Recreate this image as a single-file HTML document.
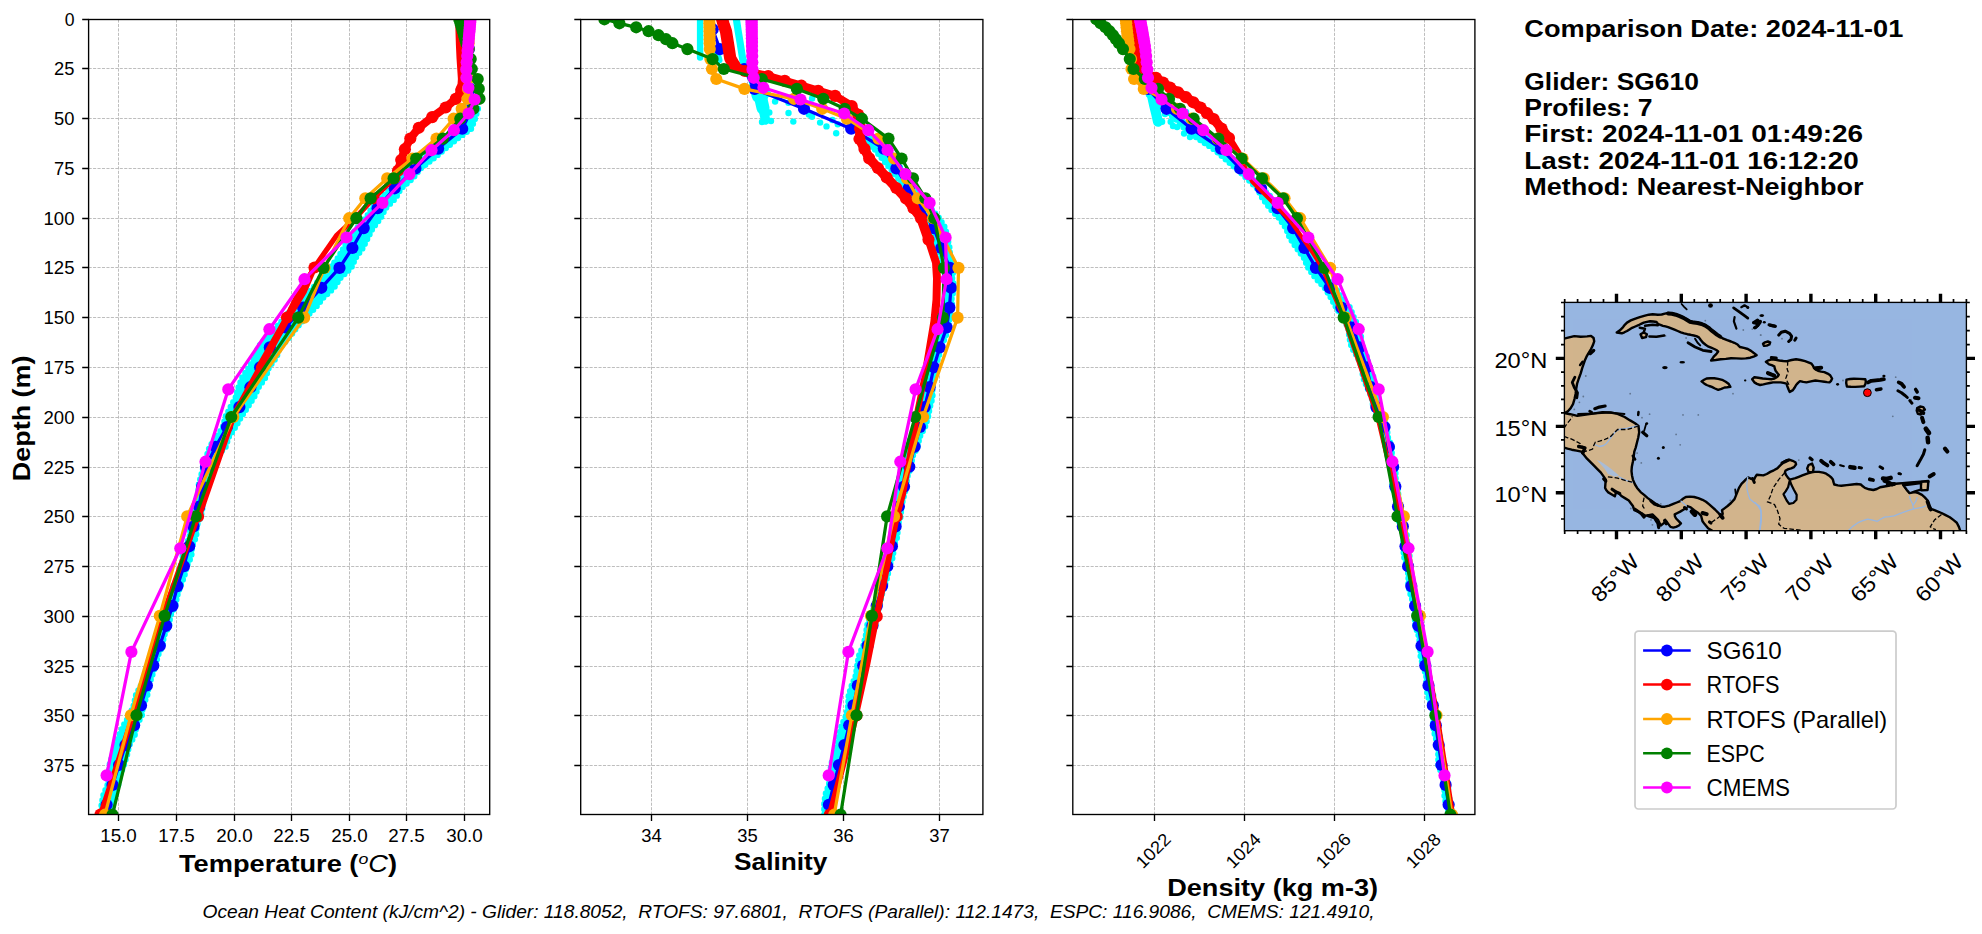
<!DOCTYPE html>
<html><head><meta charset="utf-8"><title>Glider / model profile comparison</title>
<style>html,body{margin:0;padding:0;background:#fff}body{width:1982px;height:934px;overflow:hidden}svg{display:block}text{font-family:"Liberation Sans",sans-serif;fill:#000}</style>
</head><body>
<svg width="1982" height="934" viewBox="0 0 1982 934">
<rect width="1982" height="934" fill="#fff"/>
<defs>
<clipPath id="c0"><rect x="88.6" y="19.5" width="401.1" height="795"/></clipPath>
<clipPath id="c1"><rect x="580.7" y="19.5" width="402.2" height="795"/></clipPath>
<clipPath id="c2"><rect x="1072.8" y="19.5" width="402.1" height="795"/></clipPath>
<clipPath id="cm"><rect x="1564.4" y="302.4" width="402" height="228.3"/></clipPath>
</defs>
<path d="M88.6 68.5H489.7M88.6 118.5H489.7M88.6 168.5H489.7M88.6 218.5H489.7M88.6 267.5H489.7M88.6 317.5H489.7M88.6 367.5H489.7M88.6 417.5H489.7M88.6 467.5H489.7M88.6 516.5H489.7M88.6 566.5H489.7M88.6 616.5H489.7M88.6 666.5H489.7M88.6 715.5H489.7M88.6 765.5H489.7M118.5 19.5V814.5M176.5 19.5V814.5M234.5 19.5V814.5M291.5 19.5V814.5M349.5 19.5V814.5M406.5 19.5V814.5M464.5 19.5V814.5" stroke="#b2b2b2" stroke-width="0.85" stroke-dasharray="3.1 1.35" fill="none"/>
<g clip-path="url(#c0)">
<polygon points="466.2,19.3 465,29.2 466.7,39.2 467.2,49.1 465.3,59.1 465.6,69 467.8,79 467.3,88.9 467,98.8 468.8,108.8 464.3,118.7 457.6,128.7 445.7,138.6 435.4,148.6 423.2,158.5 410.4,168.4 401.3,178.4 391.5,188.3 380.8,198.3 372,208.2 365.9,218.2 357.2,228.1 349.1,238 343.8,248 338.3,257.9 330,267.9 320.8,277.8 313.5,287.8 303.8,297.7 292.7,307.6 284.8,317.6 276.6,327.5 266.7,337.5 258.1,347.4 254.9,357.4 249.3,367.3 242.5,377.2 238.6,387.2 236,397.1 230.6,407.1 225.6,417 223,427 217,436.9 209.7,446.8 206.6,456.8 203.7,466.7 200.9,476.7 198.4,486.6 198.7,496.6 197.1,506.5 192.4,516.4 190.5,526.4 189.7,536.3 186.1,546.3 182.7,556.2 181.9,566.2 178.6,576.1 173.5,586.1 171.8,596 170.8,605.9 166.3,615.9 162,625.8 160.2,635.8 156.8,645.7 151.4,655.7 148.4,665.6 146.5,675.5 141,685.5 136,695.4 133.8,705.4 129.9,715.3 123.8,725.3 119.3,735.2 115.9,745.1 112.7,755.1 109.6,765 109.3,775 107.7,784.9 103.5,794.9 101.6,804.8 101.4,814.7 107.8,814.7 112.5,804.8 113.3,794.9 118.2,784.9 119.9,775 123.8,765 126.9,755.1 129.2,745.1 134.6,735.2 136.6,725.3 141.8,715.3 142.8,705.4 147.2,695.4 148.6,685.5 152,675.5 155.4,665.6 157.7,655.7 162.5,645.7 163.7,635.8 169.1,625.8 170.1,615.9 175.3,605.9 177,596 180.2,586.1 184.2,576.1 186.7,566.2 191.3,556.2 191.9,546.3 196.2,536.3 196.4,526.4 200.8,516.4 202.7,506.5 203.8,496.6 205.1,486.6 205.1,476.7 211.1,466.7 216.2,456.8 225.5,446.8 228.7,436.9 235.3,427 241,417 247.5,407.1 254,397.1 258.4,387.2 265.6,377.2 268.8,367.3 276.3,357.4 279.8,347.4 289.2,337.5 296.6,327.5 305.4,317.6 315.3,307.6 323.1,297.7 333.8,287.8 340.3,277.8 351.1,267.9 355.4,257.9 362.6,248 367.6,238 372.6,228.1 380.4,218.2 385.4,208.2 395.3,198.3 400.9,188.3 412.5,178.4 420.5,168.4 433.4,158.5 445.1,148.6 457.2,138.6 471.1,128.7 474.9,118.7 477.9,108.8 469.7,98.8 470.7,88.9 468.7,79 469,69 469,59.1 468.3,49.1 469.6,39.2 467.8,29.2 469.9,19.3" fill="#00ffff" stroke="#00ffff" stroke-width="1.5" stroke-linejoin="round"/>
<polygon points="466.2,19.3 465,29.2 466.7,39.2 467.2,49.1 465.3,59.1 465.6,69 467.8,79 467.3,88.9 467,98.8 468.8,108.8 464.3,118.7 457.6,128.7 445.7,138.6 435.4,148.6 423.2,158.5 410.4,168.4 401.3,178.4 391.5,188.3 380.8,198.3 372,208.2 365.9,218.2 357.2,228.1 349.1,238 343.8,248 338.3,257.9 330,267.9 320.8,277.8 313.5,287.8 303.8,297.7 292.7,307.6 284.8,317.6 276.6,327.5 266.7,337.5 258.1,347.4 254.9,357.4 249.3,367.3 242.5,377.2 238.6,387.2 236,397.1 230.6,407.1 225.6,417 223,427 217,436.9 209.7,446.8 206.6,456.8 203.7,466.7 200.9,476.7 198.4,486.6 198.7,496.6 197.1,506.5 192.4,516.4 190.5,526.4 189.7,536.3 186.1,546.3 182.7,556.2 181.9,566.2 178.6,576.1 173.5,586.1 171.8,596 170.8,605.9 166.3,615.9 162,625.8 160.2,635.8 156.8,645.7 151.4,655.7 148.4,665.6 146.5,675.5 141,685.5 136,695.4 133.8,705.4 129.9,715.3 123.8,725.3 119.3,735.2 115.9,745.1 112.7,755.1 109.6,765 109.3,775 107.7,784.9 103.5,794.9 101.6,804.8 101.4,814.7 107.8,814.7 112.5,804.8 113.3,794.9 118.2,784.9 119.9,775 123.8,765 126.9,755.1 129.2,745.1 134.6,735.2 136.6,725.3 141.8,715.3 142.8,705.4 147.2,695.4 148.6,685.5 152,675.5 155.4,665.6 157.7,655.7 162.5,645.7 163.7,635.8 169.1,625.8 170.1,615.9 175.3,605.9 177,596 180.2,586.1 184.2,576.1 186.7,566.2 191.3,556.2 191.9,546.3 196.2,536.3 196.4,526.4 200.8,516.4 202.7,506.5 203.8,496.6 205.1,486.6 205.1,476.7 211.1,466.7 216.2,456.8 225.5,446.8 228.7,436.9 235.3,427 241,417 247.5,407.1 254,397.1 258.4,387.2 265.6,377.2 268.8,367.3 276.3,357.4 279.8,347.4 289.2,337.5 296.6,327.5 305.4,317.6 315.3,307.6 323.1,297.7 333.8,287.8 340.3,277.8 351.1,267.9 355.4,257.9 362.6,248 367.6,238 372.6,228.1 380.4,218.2 385.4,208.2 395.3,198.3 400.9,188.3 412.5,178.4 420.5,168.4 433.4,158.5 445.1,148.6 457.2,138.6 471.1,128.7 474.9,118.7 477.9,108.8 469.7,98.8 470.7,88.9 468.7,79 469,69 469,59.1 468.3,49.1 469.6,39.2 467.8,29.2 469.9,19.3" fill="none" stroke="#00ffff" stroke-width="6.4" stroke-linecap="round" stroke-dasharray="0 5.3"/>
<polyline points="469,29.2 469,49.1 469,69 470,88.9 472,108.8 462.2,128.7 438.1,148.6 415.4,168.4 394.7,188.3 377.6,208.2 363.7,228.1 352.4,248 339.5,267.9 321.3,287.8 303.1,307.6 285.5,327.5 269.8,347.4 260.1,367.3 250.4,387.2 239.4,407.1 226.9,427 215.6,446.8 206,466.7 202.2,486.6 199.2,506.5 193.5,526.4 189.2,546.3 183.9,566.2 177.4,586.1 172.4,605.9 166.2,625.8 159.8,645.7 153.3,665.6 146.9,685.5 141,705.4 134.1,725.3 125.5,745.1 119.1,765 112.5,784.9 106.6,804.8" fill="none" stroke="#0000ff" stroke-width="3.25" stroke-linejoin="round"/>
<g fill="#0000ff"><circle cx="469" cy="29.2" r="6.1"/><circle cx="469" cy="49.1" r="6.1"/><circle cx="469" cy="69" r="6.1"/><circle cx="470" cy="88.9" r="6.1"/><circle cx="472" cy="108.8" r="6.1"/><circle cx="462.2" cy="128.7" r="6.1"/><circle cx="438.1" cy="148.6" r="6.1"/><circle cx="415.4" cy="168.4" r="6.1"/><circle cx="394.7" cy="188.3" r="6.1"/><circle cx="377.6" cy="208.2" r="6.1"/><circle cx="363.7" cy="228.1" r="6.1"/><circle cx="352.4" cy="248" r="6.1"/><circle cx="339.5" cy="267.9" r="6.1"/><circle cx="321.3" cy="287.8" r="6.1"/><circle cx="303.1" cy="307.6" r="6.1"/><circle cx="285.5" cy="327.5" r="6.1"/><circle cx="269.8" cy="347.4" r="6.1"/><circle cx="260.1" cy="367.3" r="6.1"/><circle cx="250.4" cy="387.2" r="6.1"/><circle cx="239.4" cy="407.1" r="6.1"/><circle cx="226.9" cy="427" r="6.1"/><circle cx="215.6" cy="446.8" r="6.1"/><circle cx="206" cy="466.7" r="6.1"/><circle cx="202.2" cy="486.6" r="6.1"/><circle cx="199.2" cy="506.5" r="6.1"/><circle cx="193.5" cy="526.4" r="6.1"/><circle cx="189.2" cy="546.3" r="6.1"/><circle cx="183.9" cy="566.2" r="6.1"/><circle cx="177.4" cy="586.1" r="6.1"/><circle cx="172.4" cy="605.9" r="6.1"/><circle cx="166.2" cy="625.8" r="6.1"/><circle cx="159.8" cy="645.7" r="6.1"/><circle cx="153.3" cy="665.6" r="6.1"/><circle cx="146.9" cy="685.5" r="6.1"/><circle cx="141" cy="705.4" r="6.1"/><circle cx="134.1" cy="725.3" r="6.1"/><circle cx="125.5" cy="745.1" r="6.1"/><circle cx="119.1" cy="765" r="6.1"/><circle cx="112.5" cy="784.9" r="6.1"/><circle cx="106.6" cy="804.8" r="6.1"/></g>
<polyline points="461,17 461.4,26 462,45 462.6,58 464,79 463.6,85 461.5,90" fill="none" stroke="#ff0000" stroke-width="12.2" stroke-linecap="round" stroke-linejoin="round"/>
<polyline points="461.5,90 455.8,98.9 445.6,107.5 432.2,117.1 418.8,127.8 410.3,138.5 404.9,149.2 401.2,160 398,170.7 394.5,178" fill="none" stroke="#ff0000" stroke-width="8.2" stroke-linecap="round" stroke-linejoin="round"/>
<polyline points="394.5,178 373.5,198.3 355.2,218.2 336.4,235.7 314,267.9 287,317.5 232.5,417 198,516.4 162.5,616 133,715.4 100.5,814.6" fill="none" stroke="#ff0000" stroke-width="5.2" stroke-linecap="round" stroke-linejoin="round"/>
<polyline points="314,267.9 298.5,292 286,317.5 258,367" fill="none" stroke="#ff0000" stroke-width="4.5" stroke-linecap="round" stroke-linejoin="round"/>
<polyline points="315,267.9 304.5,292 289,317.5 262,367 234,417 199.5,516.4" fill="none" stroke="#ff0000" stroke-width="4.5" stroke-linecap="round" stroke-linejoin="round"/>
<g fill="#ff0000"><circle cx="461.5" cy="90" r="6.1"/><circle cx="455.8" cy="98.9" r="6.1"/><circle cx="445.6" cy="107.5" r="6.1"/><circle cx="432.2" cy="117.1" r="6.1"/><circle cx="418.8" cy="127.8" r="6.1"/><circle cx="410.3" cy="138.5" r="6.1"/><circle cx="404.9" cy="149.2" r="6.1"/><circle cx="401.2" cy="160" r="6.1"/><circle cx="398" cy="170.7" r="6.1"/><circle cx="394.5" cy="178" r="6.1"/><circle cx="373.5" cy="198.3" r="6.1"/><circle cx="355.2" cy="218.2" r="6.1"/><circle cx="314.5" cy="267.5" r="6.1"/><circle cx="287" cy="317.5" r="6.1"/><circle cx="232.5" cy="417" r="6.1"/><circle cx="198" cy="516.4" r="6.1"/><circle cx="162.5" cy="616" r="6.1"/><circle cx="133" cy="715.4" r="6.1"/><circle cx="100.5" cy="814.6" r="6.1"/></g>
<polyline points="468.6,19.3 468.6,23.3 468.6,27.3 468.6,31.2 468.6,35.2 468.6,39.2 468.6,43.2 468.5,49.1 468.4,59.1 468.2,69 468,79 468,88.9 467.6,98.8 461.7,108.8 453.6,118.7 436.5,138.6 412.4,158.5 387.2,178.4 365.3,198.3 349.2,218.2 324.5,267.9 304.2,317.6 233.3,417 187.2,516.4 159.8,615.9 130.9,715.3 105,814.7" fill="none" stroke="#ffa500" stroke-width="3.25" stroke-linejoin="round"/>
<g fill="#ffa500"><circle cx="468.6" cy="19.3" r="6.1"/><circle cx="468.6" cy="23.3" r="6.1"/><circle cx="468.6" cy="27.3" r="6.1"/><circle cx="468.6" cy="31.2" r="6.1"/><circle cx="468.6" cy="35.2" r="6.1"/><circle cx="468.6" cy="39.2" r="6.1"/><circle cx="468.6" cy="43.2" r="6.1"/><circle cx="468.5" cy="49.1" r="6.1"/><circle cx="468.4" cy="59.1" r="6.1"/><circle cx="468.2" cy="69" r="6.1"/><circle cx="468" cy="79" r="6.1"/><circle cx="468" cy="88.9" r="6.1"/><circle cx="467.6" cy="98.8" r="6.1"/><circle cx="461.7" cy="108.8" r="6.1"/><circle cx="453.6" cy="118.7" r="6.1"/><circle cx="436.5" cy="138.6" r="6.1"/><circle cx="412.4" cy="158.5" r="6.1"/><circle cx="387.2" cy="178.4" r="6.1"/><circle cx="365.3" cy="198.3" r="6.1"/><circle cx="349.2" cy="218.2" r="6.1"/><circle cx="324.5" cy="267.9" r="6.1"/><circle cx="304.2" cy="317.6" r="6.1"/><circle cx="233.3" cy="417" r="6.1"/><circle cx="187.2" cy="516.4" r="6.1"/><circle cx="159.8" cy="615.9" r="6.1"/><circle cx="130.9" cy="715.3" r="6.1"/><circle cx="105" cy="814.7" r="6.1"/></g>
<polyline points="459.3,19.3 460.5,23.3 461.7,27.3 462.9,31.2 464,35.2 465.2,39.2 466.4,43.2 468.5,49.1 470.7,59.1 471.8,69 477.7,79 478.8,88.9 479.5,98.8 473.4,108.8 460.3,118.7 442.9,138.6 416.2,158.5 393.6,178.4 370.6,198.3 356.4,218.2 323.5,267.9 298.3,317.6 231.3,417 195.7,516.4 164.6,615.9 136.5,715.3 112.5,814.7" fill="none" stroke="#008000" stroke-width="3.25" stroke-linejoin="round"/>
<g fill="#008000"><circle cx="459.3" cy="19.3" r="6.1"/><circle cx="460.5" cy="23.3" r="6.1"/><circle cx="461.7" cy="27.3" r="6.1"/><circle cx="462.9" cy="31.2" r="6.1"/><circle cx="464" cy="35.2" r="6.1"/><circle cx="465.2" cy="39.2" r="6.1"/><circle cx="466.4" cy="43.2" r="6.1"/><circle cx="468.5" cy="49.1" r="6.1"/><circle cx="470.7" cy="59.1" r="6.1"/><circle cx="471.8" cy="69" r="6.1"/><circle cx="477.7" cy="79" r="6.1"/><circle cx="478.8" cy="88.9" r="6.1"/><circle cx="479.5" cy="98.8" r="6.1"/><circle cx="473.4" cy="108.8" r="6.1"/><circle cx="460.3" cy="118.7" r="6.1"/><circle cx="442.9" cy="138.6" r="6.1"/><circle cx="416.2" cy="158.5" r="6.1"/><circle cx="393.6" cy="178.4" r="6.1"/><circle cx="370.6" cy="198.3" r="6.1"/><circle cx="356.4" cy="218.2" r="6.1"/><circle cx="323.5" cy="267.9" r="6.1"/><circle cx="298.3" cy="317.6" r="6.1"/><circle cx="231.3" cy="417" r="6.1"/><circle cx="195.7" cy="516.4" r="6.1"/><circle cx="164.6" cy="615.9" r="6.1"/><circle cx="136.5" cy="715.3" r="6.1"/><circle cx="112.5" cy="814.7" r="6.1"/></g>
<polyline points="470.3,20.3 470.2,22.4 470,24.6 469.8,26.9 469.6,29.4 469.4,32.1 469.1,35.1 468.8,38.3 468.5,42 468.1,46.1 467.6,50.7 467.2,56.1 466.7,62.3 466.3,69.4 466.4,77.8 468.4,87.8 474.6,99.5 468.6,113.5 453.9,130.2 431.5,150.2 409.5,174.1 382.4,202.9 346.5,237.5 304.5,279.2 269.4,329.2 228.3,389.4 205.5,461.7 180.3,548.3 131.4,651.9 106.6,775.4" fill="none" stroke="#ff00ff" stroke-width="3.25" stroke-linejoin="round"/>
<g fill="#ff00ff"><circle cx="470.3" cy="20.3" r="6.1"/><circle cx="470.2" cy="22.4" r="6.1"/><circle cx="470" cy="24.6" r="6.1"/><circle cx="469.8" cy="26.9" r="6.1"/><circle cx="469.6" cy="29.4" r="6.1"/><circle cx="469.4" cy="32.1" r="6.1"/><circle cx="469.1" cy="35.1" r="6.1"/><circle cx="468.8" cy="38.3" r="6.1"/><circle cx="468.5" cy="42" r="6.1"/><circle cx="468.1" cy="46.1" r="6.1"/><circle cx="467.6" cy="50.7" r="6.1"/><circle cx="467.2" cy="56.1" r="6.1"/><circle cx="466.7" cy="62.3" r="6.1"/><circle cx="466.3" cy="69.4" r="6.1"/><circle cx="466.4" cy="77.8" r="6.1"/><circle cx="468.4" cy="87.8" r="6.1"/><circle cx="474.6" cy="99.5" r="6.1"/><circle cx="468.6" cy="113.5" r="6.1"/><circle cx="453.9" cy="130.2" r="6.1"/><circle cx="431.5" cy="150.2" r="6.1"/><circle cx="409.5" cy="174.1" r="6.1"/><circle cx="382.4" cy="202.9" r="6.1"/><circle cx="346.5" cy="237.5" r="6.1"/><circle cx="304.5" cy="279.2" r="6.1"/><circle cx="269.4" cy="329.2" r="6.1"/><circle cx="228.3" cy="389.4" r="6.1"/><circle cx="205.5" cy="461.7" r="6.1"/><circle cx="180.3" cy="548.3" r="6.1"/><circle cx="131.4" cy="651.9" r="6.1"/><circle cx="106.6" cy="775.4" r="6.1"/></g>
</g>
<rect x="88.6" y="19.5" width="401.1" height="795" fill="none" stroke="#000" stroke-width="1.35"/>
<path d="M88.6 19.5h-6.4M88.6 68.5h-6.4M88.6 118.5h-6.4M88.6 168.5h-6.4M88.6 218.5h-6.4M88.6 267.5h-6.4M88.6 317.5h-6.4M88.6 367.5h-6.4M88.6 417.5h-6.4M88.6 467.5h-6.4M88.6 516.5h-6.4M88.6 566.5h-6.4M88.6 616.5h-6.4M88.6 666.5h-6.4M88.6 715.5h-6.4M88.6 765.5h-6.4M118.5 814.5v6.4M176.5 814.5v6.4M234.5 814.5v6.4M291.5 814.5v6.4M349.5 814.5v6.4M406.5 814.5v6.4M464.5 814.5v6.4" stroke="#000" stroke-width="1.35" fill="none"/>
<path d="M580.7 68.5H982.9M580.7 118.5H982.9M580.7 168.5H982.9M580.7 218.5H982.9M580.7 267.5H982.9M580.7 317.5H982.9M580.7 367.5H982.9M580.7 417.5H982.9M580.7 467.5H982.9M580.7 516.5H982.9M580.7 566.5H982.9M580.7 616.5H982.9M580.7 666.5H982.9M580.7 715.5H982.9M580.7 765.5H982.9M651.5 19.5V814.5M747.5 19.5V814.5M843.5 19.5V814.5M939.5 19.5V814.5" stroke="#b2b2b2" stroke-width="0.85" stroke-dasharray="3.1 1.35" fill="none"/>
<g clip-path="url(#c1)">
<polygon points="857,138.6 874.3,148.6 882.2,158.5 890.4,168.4 898.3,178.4 905.5,188.3 910.3,198.3 916.9,208.2 924.4,218.2 929.3,228.1 931.6,238 936.7,248 941.9,257.9 944.4,267.9 944.8,277.8 947.2,287.8 945.8,297.7 943.4,307.6 943.4,317.6 943.2,327.5 938.2,337.5 934.6,347.4 933.7,357.4 930.5,367.3 926.7,377.2 925.8,387.2 924.5,397.1 919.9,407.1 916.5,417 915.3,427 911.7,436.9 906.7,446.8 904.6,456.8 902.7,466.7 899.8,476.7 897.9,486.6 898.6,496.6 897.2,506.5 893.8,516.4 893.1,526.4 892.6,536.3 889.3,546.3 886.2,556.2 885.8,566.2 883.1,576.1 878.7,586.1 876.8,596 875,605.9 870.8,615.9 867.1,625.8 865.9,635.8 863.4,645.7 859.1,655.7 857.3,665.6 855.9,675.5 851.9,685.5 848.7,695.4 848.3,705.4 846.4,715.3 841.8,725.3 839.2,735.2 837.8,745.1 834.4,755.1 831,765 830.6,775 828.9,784.9 825.4,794.9 824.2,804.8 824.4,814.7 827.3,814.7 831.8,804.8 832.1,794.9 836.4,784.9 837.6,775 841,765 843.7,755.1 845.6,745.1 849.1,735.2 849.3,725.3 853.2,715.3 853.3,705.4 857.2,695.4 858.1,685.5 861.4,675.5 864.5,665.6 866.1,655.7 870.1,645.7 870.7,635.8 875.4,625.8 875.6,615.9 879.6,605.9 881.3,596 884.5,586.1 887.5,576.1 889.1,566.2 893.1,556.2 893.4,546.3 897.5,536.3 897.4,526.4 900.6,516.4 901.3,506.5 903.6,496.6 906.3,486.6 907.2,476.7 911.1,466.7 912.2,456.8 917.5,446.8 919.5,436.9 924.9,427 927.9,417 929.8,407.1 932.5,397.1 932.2,387.2 934.9,377.2 933.5,367.3 938.8,357.4 940.1,347.4 945.1,337.5 948.2,327.5 949.6,317.6 952,307.6 951.5,297.7 954.5,287.8 952,277.8 953.7,267.9 950.2,257.9 949.5,248 947.3,238 945.2,228.1 939.1,218.2 930.3,208.2 924.7,198.3 914.9,188.3 909.5,178.4 900.5,168.4 894.1,158.5 886.7,148.6 869.9,138.6" fill="#00ffff" stroke="#00ffff" stroke-width="1.5" stroke-linejoin="round"/>
<polygon points="857,138.6 874.3,148.6 882.2,158.5 890.4,168.4 898.3,178.4 905.5,188.3 910.3,198.3 916.9,208.2 924.4,218.2 929.3,228.1 931.6,238 936.7,248 941.9,257.9 944.4,267.9 944.8,277.8 947.2,287.8 945.8,297.7 943.4,307.6 943.4,317.6 943.2,327.5 938.2,337.5 934.6,347.4 933.7,357.4 930.5,367.3 926.7,377.2 925.8,387.2 924.5,397.1 919.9,407.1 916.5,417 915.3,427 911.7,436.9 906.7,446.8 904.6,456.8 902.7,466.7 899.8,476.7 897.9,486.6 898.6,496.6 897.2,506.5 893.8,516.4 893.1,526.4 892.6,536.3 889.3,546.3 886.2,556.2 885.8,566.2 883.1,576.1 878.7,586.1 876.8,596 875,605.9 870.8,615.9 867.1,625.8 865.9,635.8 863.4,645.7 859.1,655.7 857.3,665.6 855.9,675.5 851.9,685.5 848.7,695.4 848.3,705.4 846.4,715.3 841.8,725.3 839.2,735.2 837.8,745.1 834.4,755.1 831,765 830.6,775 828.9,784.9 825.4,794.9 824.2,804.8 824.4,814.7 827.3,814.7 831.8,804.8 832.1,794.9 836.4,784.9 837.6,775 841,765 843.7,755.1 845.6,745.1 849.1,735.2 849.3,725.3 853.2,715.3 853.3,705.4 857.2,695.4 858.1,685.5 861.4,675.5 864.5,665.6 866.1,655.7 870.1,645.7 870.7,635.8 875.4,625.8 875.6,615.9 879.6,605.9 881.3,596 884.5,586.1 887.5,576.1 889.1,566.2 893.1,556.2 893.4,546.3 897.5,536.3 897.4,526.4 900.6,516.4 901.3,506.5 903.6,496.6 906.3,486.6 907.2,476.7 911.1,466.7 912.2,456.8 917.5,446.8 919.5,436.9 924.9,427 927.9,417 929.8,407.1 932.5,397.1 932.2,387.2 934.9,377.2 933.5,367.3 938.8,357.4 940.1,347.4 945.1,337.5 948.2,327.5 949.6,317.6 952,307.6 951.5,297.7 954.5,287.8 952,277.8 953.7,267.9 950.2,257.9 949.5,248 947.3,238 945.2,228.1 939.1,218.2 930.3,208.2 924.7,198.3 914.9,188.3 909.5,178.4 900.5,168.4 894.1,158.5 886.7,148.6 869.9,138.6" fill="none" stroke="#00ffff" stroke-width="6.4" stroke-linecap="round" stroke-dasharray="0 5.3"/>
<polyline points="700.1,17 700.1,57.5" fill="none" stroke="#00ffff" stroke-width="6.4" stroke-linecap="round" stroke-linejoin="round"/>
<polyline points="736.5,20 738,30 740,42 743,61" fill="none" stroke="#00ffff" stroke-width="7.2" stroke-linecap="round" stroke-linejoin="round"/>
<polyline points="757,80 760,95" fill="none" stroke="#00ffff" stroke-width="17" stroke-linecap="round" stroke-linejoin="round"/>
<polyline points="760,95 763,108" fill="none" stroke="#00ffff" stroke-width="13" stroke-linecap="round" stroke-linejoin="round"/>
<polyline points="763,108 765.5,120" fill="none" stroke="#00ffff" stroke-width="9.5" stroke-linecap="round" stroke-linejoin="round"/>
<polyline points="748,62 752,70 756,80" fill="none" stroke="#00ffff" stroke-width="7" stroke-linecap="round" stroke-linejoin="round"/>
<polyline points="716,50 719,60" fill="none" stroke="#00ffff" stroke-width="7" stroke-linecap="round" stroke-linejoin="round"/>
<g fill="#00ffff"><circle cx="775.1" cy="101.5" r="3.2"/><circle cx="769.3" cy="112.5" r="3.2"/><circle cx="788.5" cy="113" r="3.2"/><circle cx="793.3" cy="121.6" r="3.2"/><circle cx="812.1" cy="98.5" r="3.2"/><circle cx="788.5" cy="102.8" r="3.2"/><circle cx="808.9" cy="114.6" r="3.2"/><circle cx="812" cy="116.7" r="3.2"/><circle cx="820.1" cy="122.6" r="3.2"/><circle cx="826.5" cy="126.4" r="3.2"/><circle cx="836.2" cy="133.3" r="3.2"/><circle cx="832.4" cy="120" r="3.2"/><circle cx="837.8" cy="124.2" r="3.2"/><circle cx="771" cy="121" r="3.2"/><circle cx="762" cy="122" r="3.2"/><circle cx="752" cy="80" r="3.2"/><circle cx="768" cy="94" r="3.2"/><circle cx="753" cy="90" r="3.2"/></g>
<polyline points="712.7,29.2 719.8,49.1 744.2,69 754.6,88.9 804,108.8 851.2,128.7 883.8,148.6 896.4,168.4 908.7,188.3 921.5,208.2 933.8,228.1 941.3,248 949.9,267.9 951,287.8 949.4,307.6 946.7,327.5 939.7,347.4 933.8,367.3 929.6,387.2 924.7,407.1 919.9,427 914.6,446.8 909.3,466.7 904,486.6 898.8,506.5 895.6,526.4 891.9,546.3 887.3,566.2 882.1,586.1 876.7,605.9 872.4,625.8 867.6,645.7 863.2,665.6 857.8,685.5 853.5,705.4 849.2,725.3 844.4,745.1 839,765 833.7,784.9 828.9,804.8" fill="none" stroke="#0000ff" stroke-width="3.25" stroke-linejoin="round"/>
<g fill="#0000ff"><circle cx="712.7" cy="29.2" r="6.1"/><circle cx="719.8" cy="49.1" r="6.1"/><circle cx="744.2" cy="69" r="6.1"/><circle cx="754.6" cy="88.9" r="6.1"/><circle cx="804" cy="108.8" r="6.1"/><circle cx="851.2" cy="128.7" r="6.1"/><circle cx="883.8" cy="148.6" r="6.1"/><circle cx="896.4" cy="168.4" r="6.1"/><circle cx="908.7" cy="188.3" r="6.1"/><circle cx="921.5" cy="208.2" r="6.1"/><circle cx="933.8" cy="228.1" r="6.1"/><circle cx="941.3" cy="248" r="6.1"/><circle cx="949.9" cy="267.9" r="6.1"/><circle cx="951" cy="287.8" r="6.1"/><circle cx="949.4" cy="307.6" r="6.1"/><circle cx="946.7" cy="327.5" r="6.1"/><circle cx="939.7" cy="347.4" r="6.1"/><circle cx="933.8" cy="367.3" r="6.1"/><circle cx="929.6" cy="387.2" r="6.1"/><circle cx="924.7" cy="407.1" r="6.1"/><circle cx="919.9" cy="427" r="6.1"/><circle cx="914.6" cy="446.8" r="6.1"/><circle cx="909.3" cy="466.7" r="6.1"/><circle cx="904" cy="486.6" r="6.1"/><circle cx="898.8" cy="506.5" r="6.1"/><circle cx="895.6" cy="526.4" r="6.1"/><circle cx="891.9" cy="546.3" r="6.1"/><circle cx="887.3" cy="566.2" r="6.1"/><circle cx="882.1" cy="586.1" r="6.1"/><circle cx="876.7" cy="605.9" r="6.1"/><circle cx="872.4" cy="625.8" r="6.1"/><circle cx="867.6" cy="645.7" r="6.1"/><circle cx="863.2" cy="665.6" r="6.1"/><circle cx="857.8" cy="685.5" r="6.1"/><circle cx="853.5" cy="705.4" r="6.1"/><circle cx="849.2" cy="725.3" r="6.1"/><circle cx="844.4" cy="745.1" r="6.1"/><circle cx="839" cy="765" r="6.1"/><circle cx="833.7" cy="784.9" r="6.1"/><circle cx="828.9" cy="804.8" r="6.1"/></g>
<polyline points="721.5,17 723.5,24 726,31.4 728.6,47.5 730.2,58.2 734.5,65.7" fill="none" stroke="#ff0000" stroke-width="12.2" stroke-linecap="round" stroke-linejoin="round"/>
<polyline points="734.5,65.7 745,71 768.2,76.1 801.4,85.7 835.1,95.9 851.7,106 858.1,114.6 860.3,128.5" fill="none" stroke="#ff0000" stroke-width="8.2" stroke-linecap="round" stroke-linejoin="round"/>
<polyline points="860.3,128.5 859.5,139 864.5,148.9 869.2,158.4 886.7,177.5 906,198.4 921,218.2 928.5,239.6" fill="none" stroke="#ff0000" stroke-width="9.6" stroke-linecap="round" stroke-linejoin="round"/>
<polyline points="928.5,239.6 936,262.5 937,278.5 936.5,300 934.4,321.4 927.4,363.5" fill="none" stroke="#ff0000" stroke-width="8.0" stroke-linecap="round" stroke-linejoin="round"/>
<polyline points="927.4,363.5 917.8,409.6 915.1,427.1 902.8,494.6 896.7,516.4 884.4,579.6 876.7,616.4 867.1,664.6 857.2,709 855.5,718 829.9,814.6" fill="none" stroke="#ff0000" stroke-width="6.2" stroke-linecap="round" stroke-linejoin="round"/>
<g fill="#ff0000"><circle cx="734.5" cy="65.7" r="6.1"/><circle cx="745" cy="71" r="6.1"/><circle cx="768.2" cy="76.1" r="6.1"/><circle cx="801.4" cy="85.7" r="6.1"/><circle cx="835.1" cy="95.9" r="6.1"/><circle cx="851.7" cy="106" r="6.1"/><circle cx="858.1" cy="114.6" r="6.1"/><circle cx="860.3" cy="128.5" r="6.1"/><circle cx="860.3" cy="128.5" r="6.1"/><circle cx="859.5" cy="139" r="6.1"/><circle cx="864.5" cy="148.9" r="6.1"/><circle cx="869.2" cy="158.4" r="6.1"/><circle cx="886.7" cy="177.5" r="6.1"/><circle cx="906" cy="198.4" r="6.1"/><circle cx="921" cy="218.2" r="6.1"/><circle cx="928.5" cy="239.6" r="6.1"/><circle cx="784.8" cy="80.9" r="6.1"/><circle cx="818.2" cy="90.8" r="6.1"/><circle cx="877.9" cy="168" r="6.1"/><circle cx="896.3" cy="188" r="6.1"/><circle cx="913.5" cy="208.3" r="6.1"/><circle cx="896.7" cy="516.4" r="6.1"/><circle cx="876.7" cy="616.4" r="6.1"/><circle cx="856.5" cy="715.5" r="6.1"/><circle cx="829.9" cy="814.6" r="6.1"/></g>
<polyline points="709.4,19.3 709.4,23.3 709.5,27.3 709.5,31.2 709.6,35.2 709.6,39.2 709.7,43.2 709.8,49.1 710.4,59.1 712,69 716.3,79 744.5,88.9 793.9,98.8 822.2,108.8 846.9,118.7 878.5,138.6 894,158.5 907,178.4 917.8,198.3 933,218.2 958.5,267.9 957.6,317.6 923.1,417 894,516.4 871,615.9 851.9,715.3 834.2,814.7" fill="none" stroke="#ffa500" stroke-width="3.25" stroke-linejoin="round"/>
<g fill="#ffa500"><circle cx="709.4" cy="19.3" r="6.1"/><circle cx="709.4" cy="23.3" r="6.1"/><circle cx="709.5" cy="27.3" r="6.1"/><circle cx="709.5" cy="31.2" r="6.1"/><circle cx="709.6" cy="35.2" r="6.1"/><circle cx="709.6" cy="39.2" r="6.1"/><circle cx="709.7" cy="43.2" r="6.1"/><circle cx="709.8" cy="49.1" r="6.1"/><circle cx="710.4" cy="59.1" r="6.1"/><circle cx="712" cy="69" r="6.1"/><circle cx="716.3" cy="79" r="6.1"/><circle cx="744.5" cy="88.9" r="6.1"/><circle cx="793.9" cy="98.8" r="6.1"/><circle cx="822.2" cy="108.8" r="6.1"/><circle cx="846.9" cy="118.7" r="6.1"/><circle cx="878.5" cy="138.6" r="6.1"/><circle cx="894" cy="158.5" r="6.1"/><circle cx="907" cy="178.4" r="6.1"/><circle cx="917.8" cy="198.3" r="6.1"/><circle cx="933" cy="218.2" r="6.1"/><circle cx="958.5" cy="267.9" r="6.1"/><circle cx="957.6" cy="317.6" r="6.1"/><circle cx="923.1" cy="417" r="6.1"/><circle cx="894" cy="516.4" r="6.1"/><circle cx="871" cy="615.9" r="6.1"/><circle cx="851.9" cy="715.3" r="6.1"/><circle cx="834.2" cy="814.7" r="6.1"/></g>
<polyline points="604.4,19.3 619.4,23.3 636.2,27.3 648.6,31.2 658.5,35.2 666,39.2 672.4,43.2 687.4,49.1 712.6,59.1 723.8,69 761.8,79 796.9,88.9 823.3,98.8 844.7,108.8 861.9,118.7 888.5,138.6 901.6,158.5 913,178.4 925.3,198.3 934.4,218.2 944,267.9 942.9,317.6 915.1,417 887.1,516.4 871.9,615.9 856.5,715.3 840.6,814.7" fill="none" stroke="#008000" stroke-width="3.25" stroke-linejoin="round"/>
<g fill="#008000"><circle cx="604.4" cy="19.3" r="6.1"/><circle cx="619.4" cy="23.3" r="6.1"/><circle cx="636.2" cy="27.3" r="6.1"/><circle cx="648.6" cy="31.2" r="6.1"/><circle cx="658.5" cy="35.2" r="6.1"/><circle cx="666" cy="39.2" r="6.1"/><circle cx="672.4" cy="43.2" r="6.1"/><circle cx="687.4" cy="49.1" r="6.1"/><circle cx="712.6" cy="59.1" r="6.1"/><circle cx="723.8" cy="69" r="6.1"/><circle cx="761.8" cy="79" r="6.1"/><circle cx="796.9" cy="88.9" r="6.1"/><circle cx="823.3" cy="98.8" r="6.1"/><circle cx="844.7" cy="108.8" r="6.1"/><circle cx="861.9" cy="118.7" r="6.1"/><circle cx="888.5" cy="138.6" r="6.1"/><circle cx="901.6" cy="158.5" r="6.1"/><circle cx="913" cy="178.4" r="6.1"/><circle cx="925.3" cy="198.3" r="6.1"/><circle cx="934.4" cy="218.2" r="6.1"/><circle cx="944" cy="267.9" r="6.1"/><circle cx="942.9" cy="317.6" r="6.1"/><circle cx="915.1" cy="417" r="6.1"/><circle cx="887.1" cy="516.4" r="6.1"/><circle cx="871.9" cy="615.9" r="6.1"/><circle cx="856.5" cy="715.3" r="6.1"/><circle cx="840.6" cy="814.7" r="6.1"/></g>
<polyline points="751.6,20.3 751.6,22.4 751.6,24.6 751.7,26.9 751.7,29.4 751.8,32.1 751.8,35.1 751.9,38.3 752,42 752,46.1 752.1,50.7 752.2,56.1 752.3,62.3 752.5,69.4 753.7,77.8 763.4,87.8 800.5,99.5 844.2,113.5 868.3,130.2 887.6,150.2 905.5,174.1 929.6,202.9 945.6,237.5 946.5,279.2 937.6,329.2 915.6,389.4 900.3,461.7 887.4,548.3 848.4,651.9 828.7,775.4" fill="none" stroke="#ff00ff" stroke-width="3.25" stroke-linejoin="round"/>
<g fill="#ff00ff"><circle cx="751.6" cy="20.3" r="6.1"/><circle cx="751.6" cy="22.4" r="6.1"/><circle cx="751.6" cy="24.6" r="6.1"/><circle cx="751.7" cy="26.9" r="6.1"/><circle cx="751.7" cy="29.4" r="6.1"/><circle cx="751.8" cy="32.1" r="6.1"/><circle cx="751.8" cy="35.1" r="6.1"/><circle cx="751.9" cy="38.3" r="6.1"/><circle cx="752" cy="42" r="6.1"/><circle cx="752" cy="46.1" r="6.1"/><circle cx="752.1" cy="50.7" r="6.1"/><circle cx="752.2" cy="56.1" r="6.1"/><circle cx="752.3" cy="62.3" r="6.1"/><circle cx="752.5" cy="69.4" r="6.1"/><circle cx="753.7" cy="77.8" r="6.1"/><circle cx="763.4" cy="87.8" r="6.1"/><circle cx="800.5" cy="99.5" r="6.1"/><circle cx="844.2" cy="113.5" r="6.1"/><circle cx="868.3" cy="130.2" r="6.1"/><circle cx="887.6" cy="150.2" r="6.1"/><circle cx="905.5" cy="174.1" r="6.1"/><circle cx="929.6" cy="202.9" r="6.1"/><circle cx="945.6" cy="237.5" r="6.1"/><circle cx="946.5" cy="279.2" r="6.1"/><circle cx="937.6" cy="329.2" r="6.1"/><circle cx="915.6" cy="389.4" r="6.1"/><circle cx="900.3" cy="461.7" r="6.1"/><circle cx="887.4" cy="548.3" r="6.1"/><circle cx="848.4" cy="651.9" r="6.1"/><circle cx="828.7" cy="775.4" r="6.1"/></g>
</g>
<rect x="580.7" y="19.5" width="402.2" height="795" fill="none" stroke="#000" stroke-width="1.35"/>
<path d="M580.7 19.5h-6.4M580.7 68.5h-6.4M580.7 118.5h-6.4M580.7 168.5h-6.4M580.7 218.5h-6.4M580.7 267.5h-6.4M580.7 317.5h-6.4M580.7 367.5h-6.4M580.7 417.5h-6.4M580.7 467.5h-6.4M580.7 516.5h-6.4M580.7 566.5h-6.4M580.7 616.5h-6.4M580.7 666.5h-6.4M580.7 715.5h-6.4M580.7 765.5h-6.4M651.5 814.5v6.4M747.5 814.5v6.4M843.5 814.5v6.4M939.5 814.5v6.4" stroke="#000" stroke-width="1.35" fill="none"/>
<path d="M1072.8 68.5H1474.9M1072.8 118.5H1474.9M1072.8 168.5H1474.9M1072.8 218.5H1474.9M1072.8 267.5H1474.9M1072.8 317.5H1474.9M1072.8 367.5H1474.9M1072.8 417.5H1474.9M1072.8 467.5H1474.9M1072.8 516.5H1474.9M1072.8 566.5H1474.9M1072.8 616.5H1474.9M1072.8 666.5H1474.9M1072.8 715.5H1474.9M1072.8 765.5H1474.9M1154.5 19.5V814.5M1244.5 19.5V814.5M1334.5 19.5V814.5M1424.5 19.5V814.5" stroke="#b2b2b2" stroke-width="0.85" stroke-dasharray="3.1 1.35" fill="none"/>
<g clip-path="url(#c2)">
<polygon points="1131.2,19.3 1131,29.2 1133.7,39.2 1135.2,49.1 1134.3,59.1 1135.6,69 1141.3,79 1144.3,88.9 1152.3,98.8 1163.1,108.8 1175.3,118.7 1185,128.7 1198.3,138.6 1213.3,148.6 1225,158.5 1236.2,168.4 1247.1,178.4 1257.3,188.3 1262.7,198.3 1270,208.2 1279.4,218.2 1286.1,228.1 1290,238 1296.8,248 1304,257.9 1308.4,267.9 1315.6,277.8 1324.8,287.8 1331.1,297.7 1336.4,307.6 1342.6,317.6 1348.4,327.5 1349.4,337.5 1351.8,347.4 1358,357.4 1361.9,367.3 1363.1,377.2 1367.2,387.2 1371.7,397.1 1373.4,407.1 1377.7,417 1383.6,427 1385.5,436.9 1386,446.8 1389.1,456.8 1392.5,466.7 1392,476.7 1392.5,486.6 1395.7,496.6 1396.9,506.5 1397.5,516.4 1400.8,526.4 1403.5,536.3 1403.4,546.3 1403.9,556.2 1407.1,566.2 1408.6,576.1 1408.4,586.1 1411.1,596 1414.5,605.9 1414.7,615.9 1415.4,625.8 1418.8,635.8 1420.5,645.7 1420.6,655.7 1423.1,665.6 1426.3,675.5 1426.6,685.5 1427.7,695.4 1431.6,705.4 1433.4,715.3 1433,725.3 1435,735.2 1438.1,745.1 1438.3,755.1 1438.5,765 1442.3,775 1444.8,784.9 1444.4,794.9 1446.2,804.8 1449.4,814.7 1450.8,814.7 1451.5,804.8 1447.9,794.9 1448.3,784.9 1444.8,775 1443.5,765 1442.1,755.1 1439.9,745.1 1439.9,735.2 1436.6,725.3 1437.2,715.3 1433.6,705.4 1433.2,695.4 1429.8,685.5 1428.8,675.5 1427.4,665.6 1424.6,655.7 1424.2,645.7 1420.6,635.8 1421.2,625.8 1417.5,615.9 1417.6,605.9 1414.6,596 1413.1,586.1 1411.9,576.1 1409.2,566.2 1409.6,556.2 1406.2,546.3 1407,536.3 1403.7,526.4 1402.9,516.4 1399.5,506.5 1398.4,496.6 1397.6,486.6 1395.2,476.7 1395.9,466.7 1391.7,456.8 1391.8,446.8 1387.6,436.9 1386.9,427 1382,417 1378.7,407.1 1377.4,397.1 1374,387.2 1373.4,377.2 1368.9,367.3 1367.2,357.4 1361.5,347.4 1361.1,337.5 1358.8,327.5 1353.8,317.6 1349.8,307.6 1340.9,297.7 1335.5,287.8 1325.7,277.8 1320.2,267.9 1312,257.9 1306.6,248 1300.5,238 1294.5,228.1 1287.8,218.2 1278.4,208.2 1272.2,198.3 1261.7,188.3 1253.3,178.4 1241.3,168.4 1232.7,158.5 1222.9,148.6 1207.7,138.6 1194.2,128.7 1179.9,118.7 1169.4,108.8 1158.2,98.8 1151.1,88.9 1145.9,79 1142.9,69 1142.1,59.1 1140.6,49.1 1141.2,39.2 1138.5,29.2 1139.9,19.3" fill="#00ffff" stroke="#00ffff" stroke-width="1.5" stroke-linejoin="round"/>
<polygon points="1131.2,19.3 1131,29.2 1133.7,39.2 1135.2,49.1 1134.3,59.1 1135.6,69 1141.3,79 1144.3,88.9 1152.3,98.8 1163.1,108.8 1175.3,118.7 1185,128.7 1198.3,138.6 1213.3,148.6 1225,158.5 1236.2,168.4 1247.1,178.4 1257.3,188.3 1262.7,198.3 1270,208.2 1279.4,218.2 1286.1,228.1 1290,238 1296.8,248 1304,257.9 1308.4,267.9 1315.6,277.8 1324.8,287.8 1331.1,297.7 1336.4,307.6 1342.6,317.6 1348.4,327.5 1349.4,337.5 1351.8,347.4 1358,357.4 1361.9,367.3 1363.1,377.2 1367.2,387.2 1371.7,397.1 1373.4,407.1 1377.7,417 1383.6,427 1385.5,436.9 1386,446.8 1389.1,456.8 1392.5,466.7 1392,476.7 1392.5,486.6 1395.7,496.6 1396.9,506.5 1397.5,516.4 1400.8,526.4 1403.5,536.3 1403.4,546.3 1403.9,556.2 1407.1,566.2 1408.6,576.1 1408.4,586.1 1411.1,596 1414.5,605.9 1414.7,615.9 1415.4,625.8 1418.8,635.8 1420.5,645.7 1420.6,655.7 1423.1,665.6 1426.3,675.5 1426.6,685.5 1427.7,695.4 1431.6,705.4 1433.4,715.3 1433,725.3 1435,735.2 1438.1,745.1 1438.3,755.1 1438.5,765 1442.3,775 1444.8,784.9 1444.4,794.9 1446.2,804.8 1449.4,814.7 1450.8,814.7 1451.5,804.8 1447.9,794.9 1448.3,784.9 1444.8,775 1443.5,765 1442.1,755.1 1439.9,745.1 1439.9,735.2 1436.6,725.3 1437.2,715.3 1433.6,705.4 1433.2,695.4 1429.8,685.5 1428.8,675.5 1427.4,665.6 1424.6,655.7 1424.2,645.7 1420.6,635.8 1421.2,625.8 1417.5,615.9 1417.6,605.9 1414.6,596 1413.1,586.1 1411.9,576.1 1409.2,566.2 1409.6,556.2 1406.2,546.3 1407,536.3 1403.7,526.4 1402.9,516.4 1399.5,506.5 1398.4,496.6 1397.6,486.6 1395.2,476.7 1395.9,466.7 1391.7,456.8 1391.8,446.8 1387.6,436.9 1386.9,427 1382,417 1378.7,407.1 1377.4,397.1 1374,387.2 1373.4,377.2 1368.9,367.3 1367.2,357.4 1361.5,347.4 1361.1,337.5 1358.8,327.5 1353.8,317.6 1349.8,307.6 1340.9,297.7 1335.5,287.8 1325.7,277.8 1320.2,267.9 1312,257.9 1306.6,248 1300.5,238 1294.5,228.1 1287.8,218.2 1278.4,208.2 1272.2,198.3 1261.7,188.3 1253.3,178.4 1241.3,168.4 1232.7,158.5 1222.9,148.6 1207.7,138.6 1194.2,128.7 1179.9,118.7 1169.4,108.8 1158.2,98.8 1151.1,88.9 1145.9,79 1142.9,69 1142.1,59.1 1140.6,49.1 1141.2,39.2 1138.5,29.2 1139.9,19.3" fill="none" stroke="#00ffff" stroke-width="6.4" stroke-linecap="round" stroke-dasharray="0 5.3"/>
<polyline points="1152,96 1154,105 1156,113 1158,121.8" fill="none" stroke="#00ffff" stroke-width="10" stroke-linecap="round" stroke-linejoin="round"/>
<g fill="#00ffff"><circle cx="1162.1" cy="121.8" r="3.2"/><circle cx="1170.7" cy="121.8" r="3.2"/><circle cx="1177.1" cy="127.1" r="3.2"/><circle cx="1184.1" cy="133.5" r="3.2"/><circle cx="1190" cy="137" r="3.2"/><circle cx="1165" cy="114" r="3.2"/><circle cx="1158" cy="118" r="3.2"/><circle cx="1173" cy="126" r="3.2"/><circle cx="1180" cy="120" r="3.2"/><circle cx="1186" cy="112" r="3.2"/></g>
<polyline points="1136,29.2 1138,49.1 1140,69 1148,88.9 1166.5,108.8 1191.6,128.7 1221,148.6 1240.2,168.4 1261,188.3 1277.6,208.2 1293.1,228.1 1304.4,248 1315.9,267.9 1329.6,287.8 1341.4,307.6 1353.1,327.5 1359.5,347.4 1366.7,367.3 1371,387.2 1376.4,407.1 1384.5,427 1388.9,446.8 1393.1,466.7 1395.3,486.6 1398,506.5 1402.8,526.4 1405.5,546.3 1408.1,566.2 1411.3,586.1 1415.1,605.9 1418.3,625.8 1421.5,645.7 1425.3,665.6 1428.5,685.5 1432.8,705.4 1435.8,725.3 1438.7,745.1 1441.5,765 1445.6,784.9 1448.6,804.8" fill="none" stroke="#0000ff" stroke-width="3.25" stroke-linejoin="round"/>
<g fill="#0000ff"><circle cx="1136" cy="29.2" r="6.1"/><circle cx="1138" cy="49.1" r="6.1"/><circle cx="1140" cy="69" r="6.1"/><circle cx="1148" cy="88.9" r="6.1"/><circle cx="1166.5" cy="108.8" r="6.1"/><circle cx="1191.6" cy="128.7" r="6.1"/><circle cx="1221" cy="148.6" r="6.1"/><circle cx="1240.2" cy="168.4" r="6.1"/><circle cx="1261" cy="188.3" r="6.1"/><circle cx="1277.6" cy="208.2" r="6.1"/><circle cx="1293.1" cy="228.1" r="6.1"/><circle cx="1304.4" cy="248" r="6.1"/><circle cx="1315.9" cy="267.9" r="6.1"/><circle cx="1329.6" cy="287.8" r="6.1"/><circle cx="1341.4" cy="307.6" r="6.1"/><circle cx="1353.1" cy="327.5" r="6.1"/><circle cx="1359.5" cy="347.4" r="6.1"/><circle cx="1366.7" cy="367.3" r="6.1"/><circle cx="1371" cy="387.2" r="6.1"/><circle cx="1376.4" cy="407.1" r="6.1"/><circle cx="1384.5" cy="427" r="6.1"/><circle cx="1388.9" cy="446.8" r="6.1"/><circle cx="1393.1" cy="466.7" r="6.1"/><circle cx="1395.3" cy="486.6" r="6.1"/><circle cx="1398" cy="506.5" r="6.1"/><circle cx="1402.8" cy="526.4" r="6.1"/><circle cx="1405.5" cy="546.3" r="6.1"/><circle cx="1408.1" cy="566.2" r="6.1"/><circle cx="1411.3" cy="586.1" r="6.1"/><circle cx="1415.1" cy="605.9" r="6.1"/><circle cx="1418.3" cy="625.8" r="6.1"/><circle cx="1421.5" cy="645.7" r="6.1"/><circle cx="1425.3" cy="665.6" r="6.1"/><circle cx="1428.5" cy="685.5" r="6.1"/><circle cx="1432.8" cy="705.4" r="6.1"/><circle cx="1435.8" cy="725.3" r="6.1"/><circle cx="1438.7" cy="745.1" r="6.1"/><circle cx="1441.5" cy="765" r="6.1"/><circle cx="1445.6" cy="784.9" r="6.1"/><circle cx="1448.6" cy="804.8" r="6.1"/></g>
<polyline points="1133.5,17 1135.5,33 1137.8,47.5 1140,63.5 1142,72" fill="none" stroke="#ff0000" stroke-width="12.2" stroke-linecap="round" stroke-linejoin="round"/>
<polyline points="1142,73 1156,77.8 1170,87.5 1186,97.2 1200.5,107.5 1213.6,119 1221.5,128.5 1229,138" fill="none" stroke="#ff0000" stroke-width="9.4" stroke-linecap="round" stroke-linejoin="round"/>
<polyline points="1229,138 1238.1,152.8" fill="none" stroke="#ff0000" stroke-width="7" stroke-linecap="round" stroke-linejoin="round"/>
<polyline points="1238.1,152.8 1252,181.4 1270.5,200 1290.5,221 1313,253.1 1322,267.5 1343.5,317.5 1377.5,417.3 1401,516.4 1419,616.4 1437.5,715.5 1453,814.6" fill="none" stroke="#ff0000" stroke-width="4.2" stroke-linecap="round" stroke-linejoin="round"/>
<g fill="#ff0000"><circle cx="1142" cy="73" r="6.1"/><circle cx="1156" cy="77.8" r="6.1"/><circle cx="1170" cy="87.5" r="6.1"/><circle cx="1186" cy="97.2" r="6.1"/><circle cx="1200.5" cy="107.5" r="6.1"/><circle cx="1213.6" cy="119" r="6.1"/><circle cx="1221.5" cy="128.5" r="6.1"/><circle cx="1229" cy="138" r="6.1"/><circle cx="1163" cy="82.5" r="6.1"/><circle cx="1178" cy="92.3" r="6.1"/><circle cx="1193.3" cy="102.3" r="6.1"/><circle cx="1207" cy="113.2" r="6.1"/></g>
<polyline points="1125.8,19.3 1126.2,23.3 1126.6,27.3 1127,31.2 1127.5,35.2 1128,39.2 1128.5,43.2 1129.5,49.1 1131,59.1 1131.5,69 1134.1,79 1143.8,88.9 1163,98.8 1177,108.8 1191.5,118.7 1217.5,138.6 1242.5,158.5 1263.8,178.4 1284.5,198.3 1300.1,218.2 1330.1,267.9 1345.7,317.6 1382.9,417 1403.8,516.4 1419.9,615.9 1436.5,715.3 1452,814.7" fill="none" stroke="#ffa500" stroke-width="3.25" stroke-linejoin="round"/>
<g fill="#ffa500"><circle cx="1125.8" cy="19.3" r="6.1"/><circle cx="1126.2" cy="23.3" r="6.1"/><circle cx="1126.6" cy="27.3" r="6.1"/><circle cx="1127" cy="31.2" r="6.1"/><circle cx="1127.5" cy="35.2" r="6.1"/><circle cx="1128" cy="39.2" r="6.1"/><circle cx="1128.5" cy="43.2" r="6.1"/><circle cx="1129.5" cy="49.1" r="6.1"/><circle cx="1131" cy="59.1" r="6.1"/><circle cx="1131.5" cy="69" r="6.1"/><circle cx="1134.1" cy="79" r="6.1"/><circle cx="1143.8" cy="88.9" r="6.1"/><circle cx="1163" cy="98.8" r="6.1"/><circle cx="1177" cy="108.8" r="6.1"/><circle cx="1191.5" cy="118.7" r="6.1"/><circle cx="1217.5" cy="138.6" r="6.1"/><circle cx="1242.5" cy="158.5" r="6.1"/><circle cx="1263.8" cy="178.4" r="6.1"/><circle cx="1284.5" cy="198.3" r="6.1"/><circle cx="1300.1" cy="218.2" r="6.1"/><circle cx="1330.1" cy="267.9" r="6.1"/><circle cx="1345.7" cy="317.6" r="6.1"/><circle cx="1382.9" cy="417" r="6.1"/><circle cx="1403.8" cy="516.4" r="6.1"/><circle cx="1419.9" cy="615.9" r="6.1"/><circle cx="1436.5" cy="715.3" r="6.1"/><circle cx="1452" cy="814.7" r="6.1"/></g>
<polyline points="1096.3,19.3 1100.6,23.3 1105.5,27.3 1109.5,31.2 1113,35.2 1116,39.2 1119,43.2 1123,49.1 1129.8,59.1 1133.5,69 1144.8,79 1158,88.9 1169,98.8 1180,108.8 1193.7,118.7 1218.3,138.6 1241.5,158.5 1262,178.4 1283,198.3 1296.9,218.2 1324.2,267.9 1343.7,317.6 1378.6,417 1397.5,516.4 1417.2,615.9 1435.4,715.3 1450.4,814.7" fill="none" stroke="#008000" stroke-width="3.25" stroke-linejoin="round"/>
<g fill="#008000"><circle cx="1096.3" cy="19.3" r="6.1"/><circle cx="1100.6" cy="23.3" r="6.1"/><circle cx="1105.5" cy="27.3" r="6.1"/><circle cx="1109.5" cy="31.2" r="6.1"/><circle cx="1113" cy="35.2" r="6.1"/><circle cx="1116" cy="39.2" r="6.1"/><circle cx="1119" cy="43.2" r="6.1"/><circle cx="1123" cy="49.1" r="6.1"/><circle cx="1129.8" cy="59.1" r="6.1"/><circle cx="1133.5" cy="69" r="6.1"/><circle cx="1144.8" cy="79" r="6.1"/><circle cx="1158" cy="88.9" r="6.1"/><circle cx="1169" cy="98.8" r="6.1"/><circle cx="1180" cy="108.8" r="6.1"/><circle cx="1193.7" cy="118.7" r="6.1"/><circle cx="1218.3" cy="138.6" r="6.1"/><circle cx="1241.5" cy="158.5" r="6.1"/><circle cx="1262" cy="178.4" r="6.1"/><circle cx="1283" cy="198.3" r="6.1"/><circle cx="1296.9" cy="218.2" r="6.1"/><circle cx="1324.2" cy="267.9" r="6.1"/><circle cx="1343.7" cy="317.6" r="6.1"/><circle cx="1378.6" cy="417" r="6.1"/><circle cx="1397.5" cy="516.4" r="6.1"/><circle cx="1417.2" cy="615.9" r="6.1"/><circle cx="1435.4" cy="715.3" r="6.1"/><circle cx="1450.4" cy="814.7" r="6.1"/></g>
<polyline points="1140.2,20.3 1140.6,22.4 1141,24.6 1141.5,26.9 1142,29.4 1142.5,32.1 1143,35.1 1143.6,38.3 1144.2,42 1144.9,46.1 1145.5,50.7 1146.1,56.1 1146.7,62.3 1147.3,69.4 1148,77.8 1151.5,87.8 1161.5,99.5 1182.6,113.5 1203.3,130.2 1226.4,150.2 1248.7,174.1 1277.6,202.9 1308.4,237.5 1337.6,279.2 1358.7,329.2 1378.7,389.4 1392.4,461.7 1408.5,548.3 1427.6,651.9 1444.5,775.4" fill="none" stroke="#ff00ff" stroke-width="3.25" stroke-linejoin="round"/>
<g fill="#ff00ff"><circle cx="1140.2" cy="20.3" r="6.1"/><circle cx="1140.6" cy="22.4" r="6.1"/><circle cx="1141" cy="24.6" r="6.1"/><circle cx="1141.5" cy="26.9" r="6.1"/><circle cx="1142" cy="29.4" r="6.1"/><circle cx="1142.5" cy="32.1" r="6.1"/><circle cx="1143" cy="35.1" r="6.1"/><circle cx="1143.6" cy="38.3" r="6.1"/><circle cx="1144.2" cy="42" r="6.1"/><circle cx="1144.9" cy="46.1" r="6.1"/><circle cx="1145.5" cy="50.7" r="6.1"/><circle cx="1146.1" cy="56.1" r="6.1"/><circle cx="1146.7" cy="62.3" r="6.1"/><circle cx="1147.3" cy="69.4" r="6.1"/><circle cx="1148" cy="77.8" r="6.1"/><circle cx="1151.5" cy="87.8" r="6.1"/><circle cx="1161.5" cy="99.5" r="6.1"/><circle cx="1182.6" cy="113.5" r="6.1"/><circle cx="1203.3" cy="130.2" r="6.1"/><circle cx="1226.4" cy="150.2" r="6.1"/><circle cx="1248.7" cy="174.1" r="6.1"/><circle cx="1277.6" cy="202.9" r="6.1"/><circle cx="1308.4" cy="237.5" r="6.1"/><circle cx="1337.6" cy="279.2" r="6.1"/><circle cx="1358.7" cy="329.2" r="6.1"/><circle cx="1378.7" cy="389.4" r="6.1"/><circle cx="1392.4" cy="461.7" r="6.1"/><circle cx="1408.5" cy="548.3" r="6.1"/><circle cx="1427.6" cy="651.9" r="6.1"/><circle cx="1444.5" cy="775.4" r="6.1"/></g>
</g>
<rect x="1072.8" y="19.5" width="402.1" height="795" fill="none" stroke="#000" stroke-width="1.35"/>
<path d="M1072.8 19.5h-6.4M1072.8 68.5h-6.4M1072.8 118.5h-6.4M1072.8 168.5h-6.4M1072.8 218.5h-6.4M1072.8 267.5h-6.4M1072.8 317.5h-6.4M1072.8 367.5h-6.4M1072.8 417.5h-6.4M1072.8 467.5h-6.4M1072.8 516.5h-6.4M1072.8 566.5h-6.4M1072.8 616.5h-6.4M1072.8 666.5h-6.4M1072.8 715.5h-6.4M1072.8 765.5h-6.4M1154.5 814.5v6.4M1244.5 814.5v6.4M1334.5 814.5v6.4M1424.5 814.5v6.4" stroke="#000" stroke-width="1.35" fill="none"/>
<g font-size="17.7">
<text x="74.5" y="26.1" font-size="17.7" text-anchor="end" textLength="9.8" lengthAdjust="spacingAndGlyphs">0</text>
<text x="74.5" y="75.1" font-size="17.7" text-anchor="end" textLength="20.4" lengthAdjust="spacingAndGlyphs">25</text>
<text x="74.5" y="125.1" font-size="17.7" text-anchor="end" textLength="20.4" lengthAdjust="spacingAndGlyphs">50</text>
<text x="74.5" y="175.1" font-size="17.7" text-anchor="end" textLength="20.4" lengthAdjust="spacingAndGlyphs">75</text>
<text x="74.5" y="225.1" font-size="17.7" text-anchor="end" textLength="31" lengthAdjust="spacingAndGlyphs">100</text>
<text x="74.5" y="274.1" font-size="17.7" text-anchor="end" textLength="31" lengthAdjust="spacingAndGlyphs">125</text>
<text x="74.5" y="324.1" font-size="17.7" text-anchor="end" textLength="31" lengthAdjust="spacingAndGlyphs">150</text>
<text x="74.5" y="374.1" font-size="17.7" text-anchor="end" textLength="31" lengthAdjust="spacingAndGlyphs">175</text>
<text x="74.5" y="424.1" font-size="17.7" text-anchor="end" textLength="31" lengthAdjust="spacingAndGlyphs">200</text>
<text x="74.5" y="474.1" font-size="17.7" text-anchor="end" textLength="31" lengthAdjust="spacingAndGlyphs">225</text>
<text x="74.5" y="523.1" font-size="17.7" text-anchor="end" textLength="31" lengthAdjust="spacingAndGlyphs">250</text>
<text x="74.5" y="573.1" font-size="17.7" text-anchor="end" textLength="31" lengthAdjust="spacingAndGlyphs">275</text>
<text x="74.5" y="623.1" font-size="17.7" text-anchor="end" textLength="31" lengthAdjust="spacingAndGlyphs">300</text>
<text x="74.5" y="673.1" font-size="17.7" text-anchor="end" textLength="31" lengthAdjust="spacingAndGlyphs">325</text>
<text x="74.5" y="722.1" font-size="17.7" text-anchor="end" textLength="31" lengthAdjust="spacingAndGlyphs">350</text>
<text x="74.5" y="772.1" font-size="17.7" text-anchor="end" textLength="31" lengthAdjust="spacingAndGlyphs">375</text>
<text x="118.5" y="842.2" font-size="17.7" text-anchor="middle" textLength="36.6" lengthAdjust="spacingAndGlyphs">15.0</text>
<text x="176.5" y="842.2" font-size="17.7" text-anchor="middle" textLength="36.6" lengthAdjust="spacingAndGlyphs">17.5</text>
<text x="234.5" y="842.2" font-size="17.7" text-anchor="middle" textLength="36.6" lengthAdjust="spacingAndGlyphs">20.0</text>
<text x="291.5" y="842.2" font-size="17.7" text-anchor="middle" textLength="36.6" lengthAdjust="spacingAndGlyphs">22.5</text>
<text x="349.5" y="842.2" font-size="17.7" text-anchor="middle" textLength="36.6" lengthAdjust="spacingAndGlyphs">25.0</text>
<text x="406.5" y="842.2" font-size="17.7" text-anchor="middle" textLength="36.6" lengthAdjust="spacingAndGlyphs">27.5</text>
<text x="464.5" y="842.2" font-size="17.7" text-anchor="middle" textLength="36.6" lengthAdjust="spacingAndGlyphs">30.0</text>
<text x="651.5" y="842.2" font-size="17.7" text-anchor="middle" textLength="20.5" lengthAdjust="spacingAndGlyphs">34</text>
<text x="747.5" y="842.2" font-size="17.7" text-anchor="middle" textLength="20.5" lengthAdjust="spacingAndGlyphs">35</text>
<text x="843.5" y="842.2" font-size="17.7" text-anchor="middle" textLength="20.5" lengthAdjust="spacingAndGlyphs">36</text>
<text x="939.5" y="842.2" font-size="17.7" text-anchor="middle" textLength="20.5" lengthAdjust="spacingAndGlyphs">37</text>
<text transform="translate(1153.2,850.6) rotate(-45)" x="0" y="6.2" text-anchor="middle" font-size="17.7" textLength="41.2" lengthAdjust="spacingAndGlyphs">1022</text>
<text transform="translate(1243.2,850.6) rotate(-45)" x="0" y="6.2" text-anchor="middle" font-size="17.7" textLength="41.2" lengthAdjust="spacingAndGlyphs">1024</text>
<text transform="translate(1333.2,850.6) rotate(-45)" x="0" y="6.2" text-anchor="middle" font-size="17.7" textLength="41.2" lengthAdjust="spacingAndGlyphs">1026</text>
<text transform="translate(1423.2,850.6) rotate(-45)" x="0" y="6.2" text-anchor="middle" font-size="17.7" textLength="41.2" lengthAdjust="spacingAndGlyphs">1028</text>
</g>
<text x="179" y="871.8" font-size="23.0" font-weight="bold" textLength="218" lengthAdjust="spacingAndGlyphs">Temperature (<tspan font-size="15" font-weight="normal" font-style="italic" dy="-8">o</tspan><tspan font-weight="normal" font-style="italic" dy="8">C</tspan>)</text>
<text x="734.1" y="869.6" font-size="23.0" font-weight="bold" textLength="93.3" lengthAdjust="spacingAndGlyphs">Salinity</text>
<text x="1167.2" y="896.1" font-size="23.0" font-weight="bold" textLength="210.9" lengthAdjust="spacingAndGlyphs">Density (kg m-3)</text>
<text transform="translate(30,481.2) rotate(-90)" x="0" y="0" font-size="23.0" font-weight="bold" textLength="125.7" lengthAdjust="spacingAndGlyphs">Depth (m)</text>
<text x="202.5" y="918" font-size="17.6" font-style="italic" textLength="1172" lengthAdjust="spacingAndGlyphs">Ocean Heat Content (kJ/cm^2) - Glider: 118.8052,&#160; RTOFS: 97.6801,&#160; RTOFS (Parallel): 112.1473,&#160; ESPC: 116.9086,&#160; CMEMS: 121.4910,</text>
<text x="1524.3" y="36.5" font-size="23.0" font-weight="bold" textLength="379" lengthAdjust="spacingAndGlyphs">Comparison Date: 2024-11-01</text>
<text x="1524.3" y="89.5" font-size="23.0" font-weight="bold" textLength="174.6" lengthAdjust="spacingAndGlyphs">Glider: SG610</text>
<text x="1524.3" y="116" font-size="23.0" font-weight="bold" textLength="128.2" lengthAdjust="spacingAndGlyphs">Profiles: 7</text>
<text x="1524.3" y="142.3" font-size="23.0" font-weight="bold" textLength="338.8" lengthAdjust="spacingAndGlyphs">First: 2024-11-01 01:49:26</text>
<text x="1524.3" y="168.6" font-size="23.0" font-weight="bold" textLength="334.4" lengthAdjust="spacingAndGlyphs">Last: 2024-11-01 16:12:20</text>
<text x="1524.3" y="195" font-size="23.0" font-weight="bold" textLength="339.3" lengthAdjust="spacingAndGlyphs">Method: Nearest-Neighbor</text>
<rect x="1564.4" y="302.4" width="402" height="228.3" fill="#97b6e1"/>
<g clip-path="url(#cm)">
<g fill="#d2b48c" stroke="#000" stroke-width="2.4" stroke-linejoin="round">
<polygon points="1560,338.5 1564,338.7 1569.1,337.4 1574.3,336.1 1580.7,336.8 1587.1,336.4 1591,335.9 1593.6,338 1594.2,341.3 1592.9,345.1 1591,349 1588.7,352.8 1586.5,356.7 1584.8,360.5 1583.5,364.4 1582.2,368.2 1580.7,373.4 1578.8,378.5 1577.1,383.7 1576.2,388.8 1575.6,393.9 1574.5,399.1 1573,404.2 1570.7,408.1 1567.9,411.3 1564,413.5 1564,413.1 1570.3,414.2 1577.3,415.8 1584.2,414.9 1591.2,413.9 1602.3,412.1 1610.7,412.5 1617.6,413.9 1624.6,417 1630.1,420.4 1635,423.2 1638.5,426 1639.2,432.3 1638.2,437.8 1637.1,442 1635.7,447.6 1634.3,451.7 1633.6,457.3 1632.9,461.5 1631.8,467.1 1631.5,471.2 1632,475.4 1632.9,479.6 1635,484.5 1637.1,487.9 1640.6,492.1 1644.1,494.9 1647.5,497.9 1651,500.5 1654.5,503 1658,505.3 1661.5,506.7 1664.9,506.7 1669.1,505.7 1673.3,503.9 1676.8,502.5 1680.2,501.1 1683,498.8 1685.8,497 1690,496.6 1694.2,497 1698.3,498.1 1702.5,499.8 1706,501.8 1709.5,504.6 1712.3,507.1 1715,509.5 1717.8,512.3 1719.9,514.6 1721.3,517.2 1722.7,513.7 1722,510.2 1724.8,508.1 1727.6,506 1731,503 1734.5,499.1 1735.9,495.6 1737.3,492.1 1739,487.9 1741.5,483.8 1745,480.3 1748.4,477.5 1751.2,478.9 1754,479.6 1755.4,476.8 1756.8,474.7 1763.3,475.4 1766.8,474 1770.3,471.9 1773.8,470.3 1777.3,468.4 1780,465.7 1782.1,463.6 1784.2,461.5 1787,460.1 1789.8,459.8 1792.6,460.8 1795.4,462.2 1796.1,464.3 1794,467.1 1791.2,468.4 1788.4,469.1 1785.6,470.5 1784.9,472.6 1786.3,475.4 1788.4,478.2 1790.1,479.6 1792.6,478.9 1795.4,478.2 1798.8,476.8 1802.3,475.4 1805.1,474.3 1807.9,473.3 1811.4,472.3 1814.8,471.9 1819,471.9 1823.2,472.6 1826.2,473.7 1828.8,475.4 1831.3,477.5 1832.9,479.6 1833.6,482.4 1834.3,484.5 1837.8,485.4 1841.3,485.8 1846.8,485.1 1852.4,484.5 1856.6,484 1860.8,484.5 1862.8,486.3 1864.9,487.9 1869.1,489.3 1873.3,490 1876.8,489 1880.2,487.2 1884.4,486.5 1888.6,485.8 1892.1,484.5 1895.6,483.8 1898.3,483.5 1902.5,483.1 1910.9,482.4 1920.6,481.7 1928.3,481 1928.3,482.1 1920.6,483.1 1910.9,484.2 1903.2,485.1 1905.3,487.9 1907.4,490.7 1909.5,492.8 1912.3,492.4 1915,492.1 1918.5,493.2 1922,494.9 1924.8,497.4 1927.6,500.5 1928.7,503.9 1928.9,507.4 1931.7,509.1 1934.5,510.2 1938,511.6 1941.5,513 1945.6,515.1 1949.8,517.2 1953.3,519.9 1956.8,522.7 1958.9,526.9 1960.3,530.8 1960.7,535.2 1712.9,535.2 1712.3,530.8 1708.1,528.3 1704.6,524.1 1702.5,521.3 1701.8,518.5 1701.1,515.8 1698.3,513 1694.2,510.2 1690.7,507.4 1687.2,506 1686.5,507.4 1683.7,509.5 1680.2,511.6 1677.5,513 1674.7,514.4 1675,516.5 1676.1,518.5 1678.9,521.3 1680.9,523.4 1678.9,525.5 1676.1,526.9 1673.3,527.6 1670.5,526.9 1668.4,524.1 1666.3,521.3 1663.5,523.4 1660.8,525.5 1659.4,522.7 1658,519.9 1655.2,517.2 1652.4,514.4 1648.9,515.1 1645.5,515.8 1643.4,514.4 1641.3,513 1637.8,511.6 1634.3,510.2 1633.6,508.1 1632.9,506 1630.8,503.2 1628.8,500.5 1625.3,498.4 1621.8,496.3 1619,493.5 1616.2,492.1 1615.5,494.2 1614.8,496.3 1611.4,494.2 1607.9,492.1 1606.2,490 1605.1,487.9 1605.4,483.8 1605.8,479.6 1603.4,476.1 1600.9,472.6 1597.4,469.1 1594,465.7 1590.5,462.2 1587,458.7 1584.2,455.2 1581.4,451.7 1576.6,450.6 1571.7,449.7 1567.5,448.7 1564,447.6 1559.2,447.3"/>
<polygon points="1616.7,332.5 1619.9,330.3 1623.1,327.1 1625,324.6 1627,322.6 1630.8,320.4 1634.7,318.8 1639.8,317.1 1645,315.6 1648.8,314.7 1652.7,314.3 1657.8,314.7 1661.7,314.5 1664.9,313.6 1668.1,313 1671.9,313.4 1675.8,314.3 1679.6,315.8 1683.5,317.5 1686.7,319.4 1689.9,321.3 1693.8,322.2 1697.6,322.6 1701.5,323.7 1705.3,325.2 1708.6,327.4 1711.1,329.7 1714.1,332 1716.9,334.2 1720.1,336.4 1723.3,338.7 1727.2,340.2 1731,341.5 1734.3,342.8 1737.5,344.5 1739,346.1 1740,347 1743.9,347.9 1747.8,349 1751,350.9 1753.5,352.8 1756.7,355.1 1753.5,356.7 1750.3,357.7 1745.8,358.4 1741.3,358.6 1736.2,358.4 1731,358.2 1725.9,358.9 1720.8,359.3 1715.6,360 1711.1,360.5 1712.4,358.6 1713.7,356.7 1716.3,354.1 1718.2,351.5 1716.3,350 1714.3,349 1711.1,347.7 1707.9,346.4 1705.3,344.5 1702.8,342.5 1700.8,340 1698.9,337.4 1696.4,336.1 1693.8,335.5 1690.6,334.8 1687.4,334.2 1684.1,333.3 1680.9,332.3 1677.7,331 1674.5,329.7 1671.3,328.4 1668.1,327.1 1665.5,326.4 1662.9,325.8 1660.4,324.8 1657.8,323.9 1657.2,322.8 1656.5,322 1653.3,321.5 1650.1,321.3 1646.9,321.9 1643.7,322.6 1641.1,323.8 1638.5,325.2 1635.3,326.5 1632.1,327.8 1629.5,329.4 1627,331 1624.4,332.3 1621.8,333.3"/>
<polygon points="1640.5,334.2 1643.7,332.5 1646.9,334.2 1646,337.1 1642.1,338"/>
<polygon points="1701.5,381.4 1704.1,379.8 1706.6,378.5 1710.5,378.3 1714.3,378.3 1718.2,378.9 1722.1,379.8 1725.7,381.7 1728.5,383.7 1730.4,386.9 1727.2,387.3 1724.6,387.5 1721.4,388.8 1718.2,389.8 1715,388.5 1711.8,386.9 1709.2,386 1706.6,385 1704.1,383.4"/>
<polygon points="1765.9,361.8 1768.5,360.3 1771.7,359.3 1775.6,359.9 1779.4,360.5 1783.3,361 1787.1,361.2 1791.6,360 1796.1,359.3 1800.6,360 1805.1,361.2 1808.3,362.3 1811.5,363.7 1813.1,365.9 1814.1,368.2 1816,369.8 1818,370.8 1821.2,371.6 1824.4,372.1 1827.6,373.6 1830.2,375.3 1832.1,378.5 1831.1,380.8 1829.5,382.4 1827,382.1 1824.4,381.7 1819.9,381.1 1815.4,380.5 1810.9,381.4 1806.4,382.4 1803.2,381.9 1800,381.1 1798,382.9 1796.1,385 1794.5,387.8 1792.9,390.1 1789.7,392 1788.7,389.8 1787.8,387.5 1787.1,385.6 1786.5,383.7 1783.5,382.9 1780.7,382.4 1776.8,382.4 1773,382.4 1769.8,383 1766.6,383.7 1763.4,384.4 1760.1,385 1756.9,383.9 1754.4,382.4 1752.2,379.2 1754.4,377.2 1758.2,377.8 1762.7,378.5 1767.2,378.9 1771.7,379.2 1774.5,378.5 1776.8,377.2 1778.1,376 1778.8,374.7 1777.1,372.7 1775.6,370.8 1774.8,368.5 1774.3,366.3 1771.7,365.2 1769.1,364.4"/>
<polygon points="1846.5,379.6 1850.1,379 1853.9,378.8 1859.7,378.9 1865.3,379.2 1865.8,381.4 1865.5,383.7 1864.2,386.2 1859.7,386.6 1855.2,386.9 1850.7,386.8 1846.9,386.5 1846.2,383"/>
<polygon points="1763,343.8 1765,342.3 1767.9,341.5 1770.2,342.3 1769.4,344.5 1766.8,345.6 1764,345.9"/>
<polygon points="1917.2,408.1 1920.1,406.5 1923.3,407.1 1924.9,409.6 1922.1,411.3 1920.8,414.5 1917.9,413.9 1916.7,410.7"/>
<polygon points="1921.3,481.9 1928.3,481.4 1928,485.8 1927.6,490 1921.3,490.4 1920.9,486.3"/>
<polygon points="1808.6,465 1812.1,463.6 1813.7,467.8 1812.9,471.9 1808.6,472.2 1807.2,468.4"/>
</g>
<g fill="#97b6e1" stroke="#000" stroke-width="2.2" stroke-linejoin="round">
<polygon points="1789.8,480.3 1791.5,485.1 1794,490 1796.7,494.9 1796.5,499.8 1793.3,503 1789.1,503.9 1786.7,500.5 1784.9,497 1783.5,494.2 1785.6,491.4 1788.1,487.2 1789.1,483.1"/>
<polygon points="1903.6,485.3 1911.6,484.3 1920.9,483.2 1920.9,489.6 1915,491.4 1909.7,493.2 1906.7,489.6"/>
</g>
<g fill="#a9bcd6" stroke="none">
<polygon points="1596.7,460.1 1600.2,461.2 1603.7,463.6 1610.7,468.4 1619,475.4 1614.8,476.8 1607.9,474 1604.4,468.4"/>
</g>
<g fill="none" stroke="#97b6e1" stroke-width="1.3" stroke-linejoin="round" stroke-linecap="round">
<polyline points="1595.4,444.8 1599.5,446.5 1603.7,445.5 1606.5,443.4 1610.7,437.8 1614.8,432.3 1619,429.5 1627.4,428.1 1637.1,426"/>
<polyline points="1619,476.8 1626,480.3 1632.2,482.4"/>
<polyline points="1680.9,501.1 1683.7,503.5 1686.5,506"/>
<polyline points="1747.7,477.5 1746.8,483.8 1747,489.3 1748.4,494.9 1749.8,499.1 1754.7,503 1759.6,506 1761.2,510.9 1761,515.8 1760.3,523.4 1759.6,530.8"/>
<polyline points="1848.2,530.8 1852.4,526.6 1858,522.7 1862.8,520.6 1867.7,519.2 1872.6,520.2 1877.5,521.3 1880.9,519 1884.4,517.2 1889.3,516.6 1894.2,515.8 1899.7,513.7 1905.3,511.6 1909.5,510.2 1913.6,508.8 1917.8,508.1 1922,507.4 1925.5,506"/>
<polyline points="1909.5,496.3 1910.6,500.2 1912.3,503.2 1913.6,508.8"/>
<polyline points="1917.1,497.7 1915.7,501.6 1913.6,504.6"/>
<polyline points="1755,502.5 1758.1,506 1760.6,510.2 1761.4,515.8 1761.3,521.3 1759.9,530.8"/>
</g>
<g fill="none" stroke="#000" stroke-width="1.3" stroke-dasharray="4.6 2.2">
<polyline points="1638.5,426 1632.9,427.8 1627.4,429.5 1622.5,429.5 1617.6,429.5 1614.1,433 1610.7,436.4 1607.2,438.4 1603.7,439.9 1599.5,441.2 1595.4,442 1593.7,445.5 1592.6,449 1588.4,450.6 1584.2,451.7"/>
<polyline points="1564,436.4 1567.8,437.8 1571.7,439.2 1575.9,441.2 1580,443.4 1581.7,445.5 1582.8,447.6"/>
<polyline points="1564,428.1 1566.8,423.9 1570.3,419.7 1572.4,416.3"/>
<polyline points="1607.9,476.8 1612.8,477.4 1617.6,478.2 1622.5,479.6 1627.4,481 1632.9,482.4"/>
<polyline points="1644.1,497.7 1643.2,501.8 1642.7,506 1644.1,508.2 1645.5,510.2"/>
<polyline points="1720.6,515.8 1717.8,518 1715,519.9 1710.9,522.7"/>
<polyline points="1784.9,472.6 1781.7,476.1 1778.7,479.6 1775.9,483.8 1773.1,487.9 1771.7,492.1 1770.3,496.3 1768.9,499.3 1767.5,501.8 1771,503.2 1774.5,504.6 1775.9,507.4 1777.3,510.2 1778.7,514.4 1780,518.5 1779.4,521.3 1778.7,524.1 1781.4,526.6 1784.2,528.3 1793.3,529.4 1802.3,530.4"/>
<polyline points="1941.5,514.4 1938,517.2 1934.5,519.9 1932.4,523.4 1930.3,526.9 1933.1,528.6 1935.9,529.7"/>
<polyline points="1787.8,361.2 1787.6,365 1787.1,368.9 1788.2,372.1 1786.9,375.3 1785.8,378.5 1787.4,381.7 1789.1,385"/>
</g>
<g fill="none" stroke="#000" stroke-linecap="round" stroke-linejoin="round">
<polyline points="1733.6,307.9 1740,312.3 1744.5,315.6 1747.8,318.1" stroke-width="2.8"/>
<polyline points="1734.6,317.1 1733.9,321.3 1735.2,325.2 1736.4,328.7" stroke-width="2.2"/>
<polyline points="1681.6,304 1684.1,306.8 1686.7,309.4" stroke-width="1.8"/>
<polyline points="1741.3,307.2 1744.5,305.3 1747.8,307.2" stroke-width="2.2"/>
<polyline points="1753.5,322.6 1757.4,323.9 1760.6,321.3" stroke-width="2.8"/>
<polyline points="1755.5,328.2 1758,325.8 1759.3,322.6" stroke-width="2.2"/>
<polyline points="1770.2,325.2 1775,326.2" stroke-width="3.0"/>
<polyline points="1769.1,324.8 1772.3,325.6 1775.3,326.2" stroke-width="3.2"/>
<polyline points="1778.8,335.1 1781.3,332.3 1785.2,331.2 1789.4,333.3 1791.6,336.1 1791,339.3 1788.7,341.5" stroke-width="3.0"/>
<polyline points="1794.8,340.2 1796.1,338" stroke-width="3.0"/>
<polyline points="1753.7,322.6 1757.6,320.1 1760.1,322.6 1757.6,325.8 1754.4,327.8" stroke-width="3.0"/>
<polyline points="1767.9,373.1 1771.7,374.7 1774.3,375.7" stroke-width="4.0"/>
<polyline points="1771.4,357.6 1776.2,358.2" stroke-width="3.2"/>
<polyline points="1815.4,368.2 1821.2,367.7" stroke-width="4.0"/>
<polyline points="1868.1,382.4 1871.3,380.8 1875.8,380.3 1880.3,379.8 1883.9,379.2" stroke-width="3.8"/>
<polyline points="1876.4,389.8 1880.9,389.1" stroke-width="3.5"/>
<polyline points="1898.7,382.4 1901.5,383.7 1904.1,386.9" stroke-width="3.8"/>
<polyline points="1897.9,390.7 1901.5,392.7 1904.7,395.2 1907.3,397.5" stroke-width="3.0"/>
<polyline points="1909.8,400.6 1912,403.2" stroke-width="3.0"/>
<polyline points="1915.6,389.4 1917.2,392" stroke-width="3.5"/>
<polyline points="1915,397.8 1918.5,398.3" stroke-width="4.0"/>
<polyline points="1639.8,327.8 1645,328.7 1643.7,332.3" stroke-width="2.5"/>
<polyline points="1645,325.8 1652.7,324.8 1657.8,325.3" stroke-width="2.5"/>
<polyline points="1649.4,336.4 1656.5,336.8 1664.2,335.5" stroke-width="2.5"/>
<polyline points="1688,342.8 1695.1,347 1702.8,350.3 1711.1,351.5" stroke-width="2.8"/>
<polyline points="1695.1,338.7 1697.6,342.8 1700.2,345.4" stroke-width="2.0"/>
<polyline points="1668.1,313.4 1671.9,313.8 1675.8,314.7 1679.6,316.2 1683.5,317.9 1686.7,319.8 1689.9,321.7 1693.8,322.6 1697.6,323 1701.5,324 1705.3,325.6 1708.6,327.8 1711.1,330.1 1714.1,332.4 1716.9,334.6 1720.1,336.6" stroke-width="4.0"/>
<polyline points="1590.3,353.5 1593.6,350.5" stroke-width="3.5"/>
<polyline points="1580.1,365 1582.6,361.8" stroke-width="2.5"/>
<polyline points="1574.9,377.2 1572.3,382.4 1574.3,387.5 1577.5,392.7 1576.8,397.8" stroke-width="2.8"/>
<polyline points="1594.8,408.7 1599.3,407.1 1605.1,406" stroke-width="3.2"/>
<polyline points="1589.7,411.3 1591.6,412.2" stroke-width="2.8"/>
<polyline points="1578.1,413.9 1593.6,413.5 1609,412.6 1624.4,413.9" stroke-width="2.0"/>
<polyline points="1638.5,412.1 1638.2,414.9" stroke-width="2.5"/>
<polyline points="1642.7,432.3 1646.8,435.7" stroke-width="3.2"/>
<polyline points="1644.1,430.9 1646.1,423.9" stroke-width="1.8"/>
<polyline points="1632.9,455.9 1635,459.4" stroke-width="2.8"/>
<polyline points="1578.7,446.5 1584.9,447.9 1582.8,452.9" stroke-width="3.5"/>
<polyline points="1603.7,478.9 1605.8,481" stroke-width="3.2"/>
<polyline points="1612.1,489.3 1616.2,492.1 1619.7,493.5" stroke-width="3.2"/>
<polyline points="1635,509.1 1641.3,513.7 1644.1,517.2" stroke-width="3.0"/>
<polyline points="1651,501.1 1654.5,503.9 1658,505.3" stroke-width="3.2"/>
<polyline points="1648.2,515.8 1654.5,517.8 1658,523.4 1658.7,527.6" stroke-width="3.2"/>
<polyline points="1664.9,520.6 1666.3,523.4" stroke-width="3.8"/>
<polyline points="1692.1,511.6 1694.9,514.4" stroke-width="5.0"/>
<polyline points="1702.5,513 1706.7,514.1" stroke-width="4.0"/>
<polyline points="1684.4,507.4 1686.5,509.1" stroke-width="2.8"/>
<polyline points="1709.5,522 1710.9,523" stroke-width="3.2"/>
<polyline points="1720.6,515.1 1722.7,517.8" stroke-width="3.8"/>
<polyline points="1735.2,489.3 1735.9,494.9" stroke-width="1.8"/>
<polyline points="1752.6,478.5 1754.3,482.4" stroke-width="3.0"/>
<polyline points="1782.1,462.9 1784.9,461.8 1788.4,460.1" stroke-width="3.2"/>
<polyline points="1810,458 1812.1,459.8" stroke-width="3.2"/>
<polyline points="1821.1,460.8 1823.9,463.2 1827.4,465.4" stroke-width="3.8"/>
<polyline points="1830.8,461.8 1833.6,464.3" stroke-width="3.8"/>
<polyline points="1840.2,465.2 1843.8,466.2" stroke-width="2.2"/>
<polyline points="1850.3,467.1 1854.5,467.8" stroke-width="4.5"/>
<polyline points="1859.1,467.6 1861.5,467.9" stroke-width="3.0"/>
<polyline points="1880,466.8 1882.7,468.4" stroke-width="3.0"/>
<polyline points="1869.8,479.3 1873,480" stroke-width="3.8"/>
<polyline points="1883,478.5 1886.5,478.9 1890.7,477.9" stroke-width="4.5"/>
<polyline points="1884.4,481 1888.6,482.4 1892.1,484.5" stroke-width="3.8"/>
<polyline points="1898.8,473.6 1900.6,474" stroke-width="2.8"/>
<polyline points="1929.6,476.5 1933.8,474" stroke-width="3.8"/>
<polyline points="1917.1,465.7 1920.3,460.1 1923.4,454.3 1924.8,449.7" stroke-width="3.0"/>
<polyline points="1927.6,437.8 1928.1,442.3" stroke-width="4.5"/>
<polyline points="1925.9,428.8 1928.9,433" stroke-width="4.8"/>
<polyline points="1922,417.7 1923.4,422.2" stroke-width="4.0"/>
<polyline points="1919.2,410 1923.4,413.1" stroke-width="3.8"/>
<polyline points="1945,448.7 1947.3,451.5" stroke-width="4.2"/>
<polyline points="1927.6,501.8 1929.6,507.4 1930.6,509.5" stroke-width="3.8"/>
<polyline points="1887.9,484.5 1894.2,484" stroke-width="4.2"/>
</g>
<g fill="#000"><ellipse cx="1664.9" cy="367.6" rx="2.8" ry="1.7"/><ellipse cx="1682.2" cy="362.2" rx="2.8" ry="1.3"/><ellipse cx="1710.5" cy="305.5" rx="2.4" ry="2.2"/><ellipse cx="1761.2" cy="315.6" rx="1.8" ry="1.2"/><ellipse cx="1747.8" cy="307.6" rx="1.5" ry="1.5"/><ellipse cx="1762.1" cy="315.6" rx="1.9" ry="1.3"/><ellipse cx="1764.3" cy="322.2" rx="1.5" ry="1.2"/><ellipse cx="1837.6" cy="384.3" rx="1.5" ry="1.4"/><ellipse cx="1883.9" cy="376" rx="1.6" ry="1.3"/><ellipse cx="1663.3" cy="447.6" rx="1.5" ry="1.5"/><ellipse cx="1658.4" cy="458.3" rx="1.5" ry="1.5"/><ellipse cx="1646.8" cy="423.6" rx="1.4" ry="1.4"/><ellipse cx="1899.7" cy="473.7" rx="1.5" ry="1.1"/><ellipse cx="1745.2" cy="380.5" rx="1.2" ry="1.0"/></g>
<g fill="#000" opacity="0.35"><circle cx="1585.8" cy="376" r="0.9"/><circle cx="1630.2" cy="393.7" r="0.9"/><circle cx="1733" cy="393.7" r="0.9"/><circle cx="1745.2" cy="380.1" r="0.9"/><circle cx="1743.3" cy="330" r="0.9"/><circle cx="1760.6" cy="335.1" r="0.9"/><circle cx="1705.3" cy="320.7" r="0.9"/><circle cx="1583.3" cy="396.5" r="0.9"/><circle cx="1579.4" cy="402.3" r="0.9"/><circle cx="1574.3" cy="409.4" r="0.9"/><circle cx="1638.5" cy="412.6" r="0.9"/><circle cx="1686.1" cy="338" r="0.9"/><circle cx="1665.5" cy="335.9" r="0.9"/><circle cx="1752.3" cy="329.1" r="0.9"/><circle cx="1760.8" cy="335.1" r="0.9"/><circle cx="1782" cy="338.7" r="0.9"/><circle cx="1843" cy="380.5" r="0.9"/><circle cx="1895.7" cy="377.2" r="0.9"/><circle cx="1911.1" cy="399.7" r="0.9"/><circle cx="1649.6" cy="414.2" r="0.9"/><circle cx="1683" cy="414.9" r="0.9"/><circle cx="1698.3" cy="414.9" r="0.9"/><circle cx="1676.1" cy="434.4" r="0.9"/><circle cx="1680.2" cy="444.8" r="0.9"/><circle cx="1641.3" cy="462.9" r="0.9"/><circle cx="1637.1" cy="453.1" r="0.9"/><circle cx="1642" cy="417.7" r="0.9"/><circle cx="1660.8" cy="503.9" r="0.9"/><circle cx="1630.8" cy="508.5" r="0.9"/><circle cx="1651" cy="519.9" r="0.9"/><circle cx="1652.4" cy="524.8" r="0.9"/><circle cx="1730.3" cy="500.5" r="0.9"/><circle cx="1735.9" cy="494.2" r="0.9"/><circle cx="1798.8" cy="460.1" r="0.9"/><circle cx="1892.8" cy="416.3" r="0.9"/><circle cx="1841.3" cy="465.4" r="0.9"/></g>
<circle cx="1867.4" cy="392.7" r="3.9" fill="#ff0000" stroke="#000" stroke-width="1"/>
</g>
<rect x="1564.4" y="302.4" width="402" height="228.3" fill="none" stroke="#000" stroke-width="1.35"/>
<path d="M1616.5 302.4v-8.6M1616.5 530.7v8.6M1681.3 302.4v-8.6M1681.3 530.7v8.6M1746.1 302.4v-8.6M1746.1 530.7v8.6M1810.9 302.4v-8.6M1810.9 530.7v8.6M1875.7 302.4v-8.6M1875.7 530.7v8.6M1940.5 302.4v-8.6M1940.5 530.7v8.6M1564.4 492.8h-8.6M1966.4 492.8h8.6M1564.4 426.4h-8.6M1966.4 426.4h8.6M1564.4 358.4h-8.6M1966.4 358.4h8.6" stroke="#000" stroke-width="3.4" fill="none"/>
<path d="M1564.7 302.4v-3.4M1564.7 530.7v3.4M1577.6 302.4v-3.4M1577.6 530.7v3.4M1590.6 302.4v-3.4M1590.6 530.7v3.4M1603.5 302.4v-3.4M1603.5 530.7v3.4M1629.5 302.4v-3.4M1629.5 530.7v3.4M1642.4 302.4v-3.4M1642.4 530.7v3.4M1655.4 302.4v-3.4M1655.4 530.7v3.4M1668.3 302.4v-3.4M1668.3 530.7v3.4M1694.3 302.4v-3.4M1694.3 530.7v3.4M1707.2 302.4v-3.4M1707.2 530.7v3.4M1720.2 302.4v-3.4M1720.2 530.7v3.4M1733.1 302.4v-3.4M1733.1 530.7v3.4M1759.1 302.4v-3.4M1759.1 530.7v3.4M1772 302.4v-3.4M1772 530.7v3.4M1785 302.4v-3.4M1785 530.7v3.4M1797.9 302.4v-3.4M1797.9 530.7v3.4M1823.9 302.4v-3.4M1823.9 530.7v3.4M1836.8 302.4v-3.4M1836.8 530.7v3.4M1849.8 302.4v-3.4M1849.8 530.7v3.4M1862.7 302.4v-3.4M1862.7 530.7v3.4M1888.7 302.4v-3.4M1888.7 530.7v3.4M1901.6 302.4v-3.4M1901.6 530.7v3.4M1914.6 302.4v-3.4M1914.6 530.7v3.4M1927.5 302.4v-3.4M1927.5 530.7v3.4M1953.5 302.4v-3.4M1953.5 530.7v3.4M1966.4 302.4v-3.4M1966.4 530.7v3.4M1564.4 519h-3.4M1966.4 519h3.4M1564.4 505.9h-3.4M1966.4 505.9h3.4M1564.4 479.6h-3.4M1966.4 479.6h3.4M1564.4 466.4h-3.4M1966.4 466.4h3.4M1564.4 453.1h-3.4M1966.4 453.1h3.4M1564.4 439.8h-3.4M1966.4 439.8h3.4M1564.4 412.9h-3.4M1966.4 412.9h3.4M1564.4 399.4h-3.4M1966.4 399.4h3.4M1564.4 385.8h-3.4M1966.4 385.8h3.4M1564.4 372.1h-3.4M1966.4 372.1h3.4M1564.4 344.6h-3.4M1966.4 344.6h3.4M1564.4 330.6h-3.4M1966.4 330.6h3.4M1564.4 316.6h-3.4M1966.4 316.6h3.4M1564.4 302.5h-3.4M1966.4 302.5h3.4" stroke="#000" stroke-width="1.7" fill="none"/>
<text x="1547.3" y="368" font-size="21.6" text-anchor="end" textLength="52.9" lengthAdjust="spacingAndGlyphs">20°N</text>
<text x="1547.3" y="436" font-size="21.6" text-anchor="end" textLength="52.9" lengthAdjust="spacingAndGlyphs">15°N</text>
<text x="1547.3" y="502.4" font-size="21.6" text-anchor="end" textLength="52.9" lengthAdjust="spacingAndGlyphs">10°N</text>
<text transform="translate(1614.9,577.8) rotate(-45)" x="0" y="7.7" text-anchor="middle" font-size="21.6" textLength="57.5" lengthAdjust="spacingAndGlyphs">85°W</text>
<text transform="translate(1679.7,577.8) rotate(-45)" x="0" y="7.7" text-anchor="middle" font-size="21.6" textLength="57.5" lengthAdjust="spacingAndGlyphs">80°W</text>
<text transform="translate(1744.5,577.8) rotate(-45)" x="0" y="7.7" text-anchor="middle" font-size="21.6" textLength="57.5" lengthAdjust="spacingAndGlyphs">75°W</text>
<text transform="translate(1809.3,577.8) rotate(-45)" x="0" y="7.7" text-anchor="middle" font-size="21.6" textLength="57.5" lengthAdjust="spacingAndGlyphs">70°W</text>
<text transform="translate(1874.1,577.8) rotate(-45)" x="0" y="7.7" text-anchor="middle" font-size="21.6" textLength="57.5" lengthAdjust="spacingAndGlyphs">65°W</text>
<text transform="translate(1938.9,577.8) rotate(-45)" x="0" y="7.7" text-anchor="middle" font-size="21.6" textLength="57.5" lengthAdjust="spacingAndGlyphs">60°W</text>
<rect x="1635" y="631.2" width="261" height="177.8" rx="3.4" fill="#fff" fill-opacity="0.8" stroke="#ccc" stroke-width="1.7"/>
<path d="M1643.1 650.5h47.6" stroke="#0000ff" stroke-width="2.5"/><circle cx="1666.9" cy="650.5" r="5.9" fill="#0000ff"/>
<text x="1706.6" y="659.2" font-size="23.6" textLength="75.2" lengthAdjust="spacingAndGlyphs">SG610</text>
<path d="M1643.1 684.6h47.6" stroke="#ff0000" stroke-width="2.5"/><circle cx="1666.9" cy="684.6" r="5.9" fill="#ff0000"/>
<text x="1706.6" y="693.3" font-size="23.6" textLength="72.8" lengthAdjust="spacingAndGlyphs">RTOFS</text>
<path d="M1643.1 719h47.6" stroke="#ffa500" stroke-width="2.5"/><circle cx="1666.9" cy="719" r="5.9" fill="#ffa500"/>
<text x="1706.6" y="727.7" font-size="23.6" textLength="180.5" lengthAdjust="spacingAndGlyphs">RTOFS (Parallel)</text>
<path d="M1643.1 753.3h47.6" stroke="#008000" stroke-width="2.5"/><circle cx="1666.9" cy="753.3" r="5.9" fill="#008000"/>
<text x="1706.6" y="762" font-size="23.6" textLength="58.2" lengthAdjust="spacingAndGlyphs">ESPC</text>
<path d="M1643.1 787.5h47.6" stroke="#ff00ff" stroke-width="2.5"/><circle cx="1666.9" cy="787.5" r="5.9" fill="#ff00ff"/>
<text x="1706.6" y="796.2" font-size="23.6" textLength="83.4" lengthAdjust="spacingAndGlyphs">CMEMS</text>
</svg>
</body></html>
